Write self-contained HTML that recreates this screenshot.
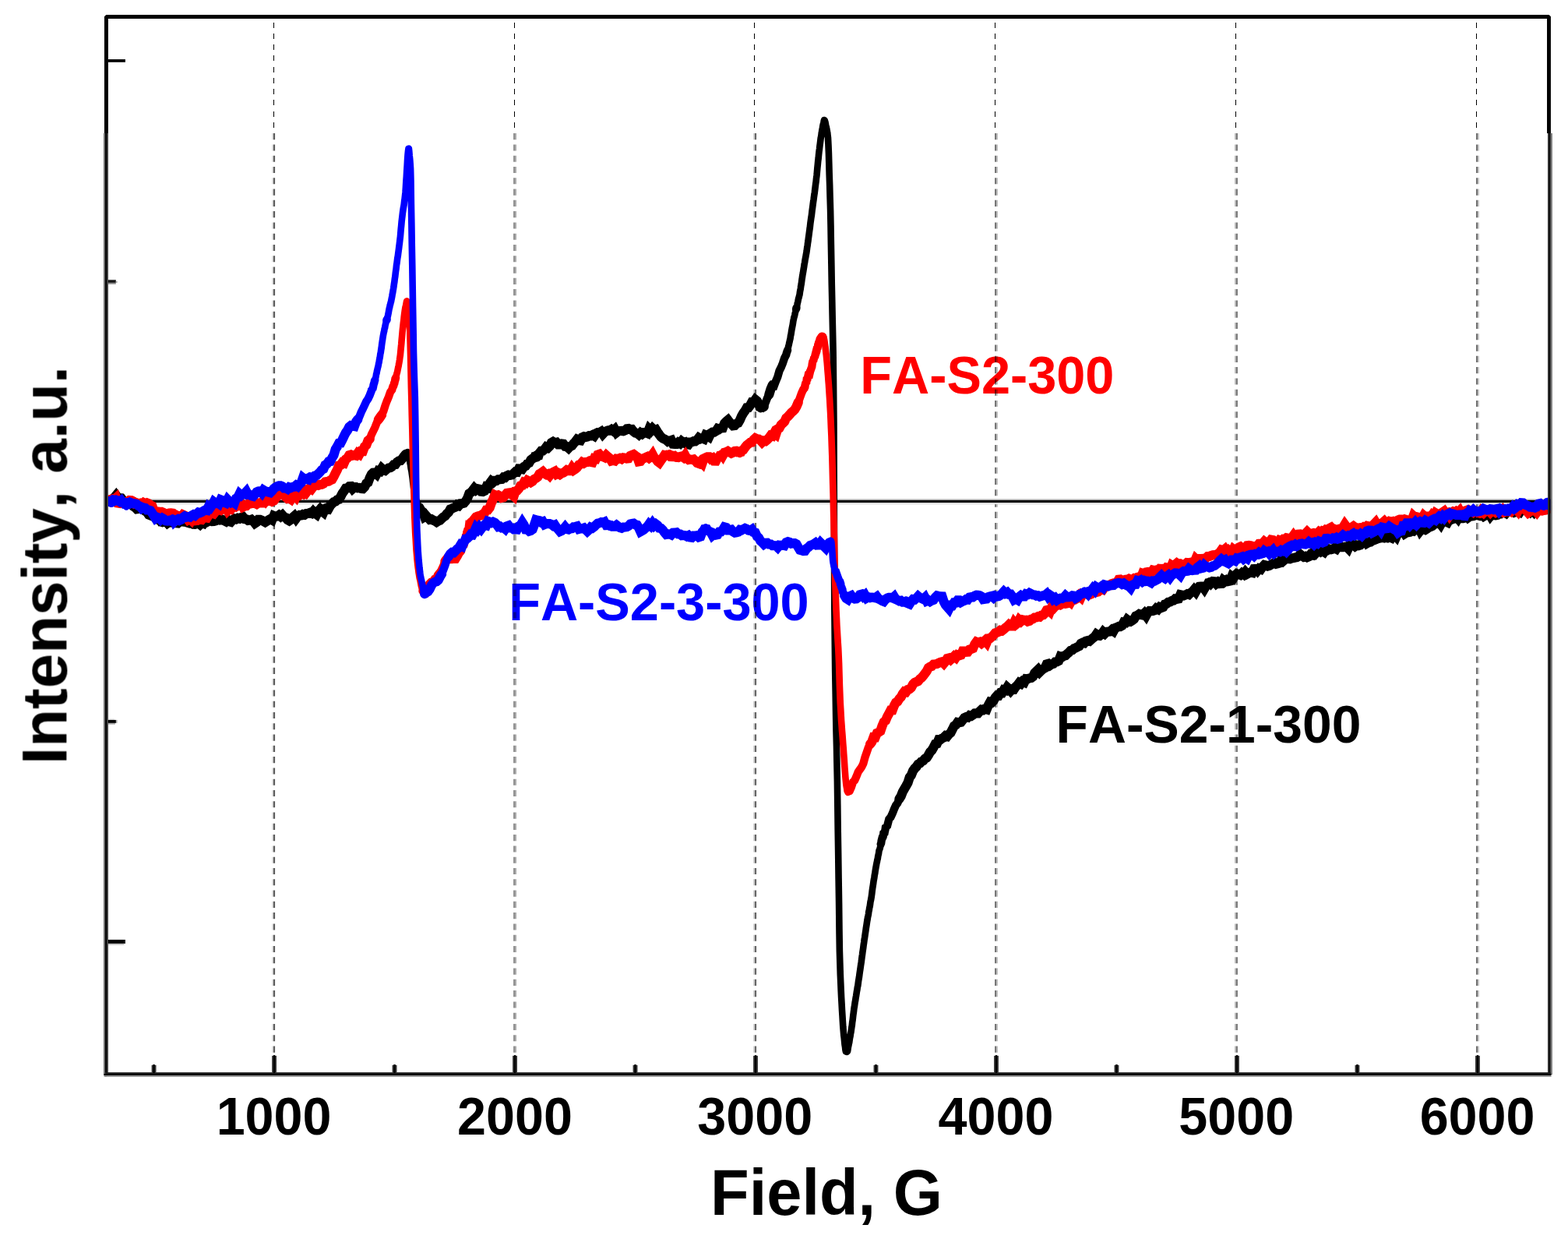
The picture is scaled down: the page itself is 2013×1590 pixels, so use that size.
<!DOCTYPE html>
<html lang="en">
<head>
<meta charset="utf-8">
<title>EPR spectra</title>
<style>
html,body{margin:0;padding:0;background:#fff;}
body{width:2013px;height:1590px;overflow:hidden;}
svg{display:block;}
text{font-family:"Liberation Sans",sans-serif;font-weight:bold;font-kerning:none;}
.tick{font-size:66.5px;text-anchor:middle;fill:#000;}
.ttl{font-size:80px;text-anchor:middle;fill:#000;}
.lbl{font-size:66.7px;text-anchor:start;}
.crv{fill:none;stroke-linejoin:miter;stroke-miterlimit:1.9;stroke-linecap:butt;}
.gd{stroke-dasharray:8.1 6.1857;fill:none;}
.g0{stroke:#000;stroke-width:1.1;stroke-dasharray:7.07 6.86;fill:none;}
</style>
</head>
<body>
<svg width="2013" height="1590" viewBox="0 0 2013 1590">
<rect x="0" y="0" width="2013" height="1590" fill="#fff"/>
<defs><filter id="soft" x="0" y="0" width="2013" height="1590" filterUnits="userSpaceOnUse" color-interpolation-filters="sRGB"><feGaussianBlur stdDeviation="0.7"/></filter><clipPath id="lower"><rect x="0" y="170.6" width="2013" height="1420"/></clipPath><clipPath id="upper"><rect x="0" y="0" width="2013" height="170.6"/></clipPath></defs>
<g clip-path="url(#lower)">
<g id="raster" filter="url(#soft)">
<g id="labels">
<text class="lbl" transform="translate(1104.3,504.8) scale(1,1.02)" fill="#f00">FA-S2-300</text>
<text class="lbl" transform="translate(653.2,796) scale(1,1.02)" fill="#00f">FA-S2-3-300</text>
<text class="lbl" style="font-size:67.8px" transform="translate(1355.6,953) scale(1,1.02)" fill="#000">FA-S2-1-300</text>
</g>
<g id="grid" style="mix-blend-mode:multiply">
<line class="gd" x1="350.10" y1="171.1" x2="350.10" y2="1354" stroke="#dcdcdc" stroke-width="1.6"/>
<line class="gd" x1="352.00" y1="171.1" x2="352.00" y2="1354" stroke="#5c5c5c" stroke-width="2.2"/>
<line class="gd" x1="660.10" y1="171.1" x2="660.10" y2="1354" stroke="#8c8c8c" stroke-width="2.0"/>
<line class="gd" x1="662.00" y1="171.1" x2="662.00" y2="1354" stroke="#a4a4a4" stroke-width="1.8"/>
<line class="gd" x1="968.00" y1="171.1" x2="968.00" y2="1354" stroke="#d0d0d0" stroke-width="1.8"/>
<line class="gd" x1="970.00" y1="171.1" x2="970.00" y2="1354" stroke="#666666" stroke-width="2.2"/>
<line class="gd" x1="1278.10" y1="171.1" x2="1278.10" y2="1354" stroke="#707070" stroke-width="2.0"/>
<line class="gd" x1="1280.00" y1="171.1" x2="1280.00" y2="1354" stroke="#b8b8b8" stroke-width="1.8"/>
<line class="gd" x1="1586.00" y1="171.1" x2="1586.00" y2="1354" stroke="#b8b8b8" stroke-width="1.8"/>
<line class="gd" x1="1587.90" y1="171.1" x2="1587.90" y2="1354" stroke="#747474" stroke-width="2.0"/>
<line class="gd" x1="1896.10" y1="171.1" x2="1896.10" y2="1354" stroke="#686868" stroke-width="2.0"/>
<line class="gd" x1="1898.00" y1="171.1" x2="1898.00" y2="1354" stroke="#c4c4c4" stroke-width="1.8"/>
</g>
<g id="zero">
<rect x="139" y="640.4" width="1848" height="1.5" fill="#b4b4b4"/>
<rect x="139" y="641.9" width="1848" height="3.15" fill="#000"/>
<rect x="139" y="645.05" width="1848" height="2.2" fill="#dedede"/>
</g>
<g id="curve-000">
<path class="crv" style="stroke-linejoin:round" stroke="#000" stroke-width="8.6" d="M142.5,641.2 144.7,640.2 146.9,638.3 149.1,635.6 151.3,638.6 153.5,639 155.7,639.3 157.9,642.1 160.1,643.1 162.3,644.3 164.5,645 166.7,646.7 168.9,646.7 171.1,649.6 173.3,651 175.5,653.2 177.7,652.9 179.9,652.9 182.1,652.9 184.3,654.3 186.5,656 188.7,657.3 190.9,660.4 193.1,661.3 195.3,658.4 197.5,661.2 199.7,664.7 201.9,665.4 204.1,667.5 206.3,668.9 208.5,672.1 210.7,668.1 212.9,668.7 215.1,671.3 217.3,669.7 219.5,670.3 221.7,669.6 223.9,668.7 226.1,671.2 228.3,671.4 230.5,669.4 232.7,669.3 234.9,669.6 237.1,668.7 239.3,670.2 241.5,670.9 243.7,671.5 245.9,671.3 248.1,672.7 250.3,672.8 252.5,672.3 254.7,671.3 256.9,673.1 259.1,670.9 261.3,671.7 263.5,668.1 265.7,670 267.9,668.9 270.1,667.9 272.3,669.1 274.5,668.9 276.7,668.3 278.9,665.8 281.1,665.2 283.3,667.3 285.5,666.9 287.7,668.1 289.9,669.2 292.1,666.8 294.3,669.1 296.5,669.8 298.7,667.3 300.9,665.6 303.1,666.3 305.3,664.9 307.5,665.5 309.7,664 311.9,663.3 314.1,666.1 316.3,666.4 318.5,667.9 320.7,667.6 322.9,666.8 325.1,668.8 327.3,671.6 329.5,670.1 331.7,666.8 333.9,666.8 336.1,667.7 338.3,668.9 340.5,670.2 342.7,668.8 344.9,667.1 347.1,666 349.3,667.3 351.5,662 353.7,662.9 355.9,662.5 358.1,661 360.3,662.8 362.5,661 364.7,663.5 366.9,664.2 369.1,667 371.3,668.3 373.5,666.7 375.7,664 377.9,662.1 380.1,665.4 382.3,662.5 384.5,661.1 386.7,661.3 388.9,660 391.1,660.6 393.3,659 395.5,659 397.7,658.1 399.9,658.9 402.1,656.3 404.3,658.6 406.5,660.2 408.7,655.9 410.9,653.4 413.1,655.9 415.3,657.6 417.5,652.7 419.7,651.7 421.9,652.7 424.1,648.7 426.3,646.5 428.5,644.2 430.7,643.6 432.9,641.4 435.1,640.7 437.3,637.5 439.5,633.1 441.7,630.1 443.9,626.6 446.1,626.2 448.3,624.2 450.5,624.1 452.7,627.2 454.9,625.2 457.1,625.2 459.3,626.3 461.5,626 463.7,626.9 465.9,627.1 468.1,624.9 470.3,620.4 472.5,619.1 474.7,613.1 476.9,608.8 479.1,606.7 481.3,606.5 483.5,608.5 485.7,604.3 487.9,604.9 490.1,601.1 492.3,603.1 494.5,603.9 496.7,602 498.9,600.5 501.1,600.2 503.3,598.8 505.5,596.3 507.7,596 509.9,592.9 512.1,591.4 514.3,591 516.5,588.6 518.7,585.6 520.9,582.9 523.1,581.5 523.5,580.1 524,582.2 524.4,582.7 524.9,584.5 525.3,587.2 525.7,589.7 526.2,592.1 526.6,594.8 527.1,597.2 527.5,600.6 527.9,602.5 528.4,604.8 528.8,607.9 529.3,611.4 529.7,614.5 530.1,618.4 530.6,622 531,625.9 531.5,629.1 531.9,631 532.3,634.3 532.8,636.1 533.2,639.3 533.7,640.5 534.1,641.7 534.5,641.9 535,645.1 535.4,648.3 535.9,646.8 536.3,648.7 538.5,651.4 540.7,655.4 542.9,657.1 545.1,663.3 547.3,662 549.5,664.5 551.7,666.8 553.9,666.3 556.1,667.6 558.3,668.4 560.5,669.9 562.7,668.5 564.9,667.7 567.1,665.5 569.3,663.5 571.5,662.2 573.7,659.3 575.9,657.4 578.1,653.5 580.3,652.7 582.5,651.5 584.7,650.6 586.9,648 589.1,648.9 591.3,646.3 593.5,646.1 595.7,645.5 597.9,643 600.1,639.3 602.3,633.4 604.5,632.1 606.7,629.5 608.9,626.6 611.1,628.9 613.3,627.3 615.5,627.7 617.7,630.8 619.9,631 622.1,630 624.3,625 626.5,625.8 628.7,620.3 630.9,617.3 633.1,618.9 635.3,616.9 637.5,616.9 639.7,615.3 641.9,615.2 644.1,615 646.3,612.6 648.5,612.9 650.7,610.6 652.9,609.5 655.1,609.9 657.3,609.4 659.5,607.5 661.7,605.4 663.9,605.7 666.1,601.4 668.3,601.5 670.5,602.1 672.7,598.9 674.9,598 677.1,595 679.3,594 681.5,590.2 683.7,588.6 685.9,587.5 688.1,582.7 690.3,588.1 692.5,581.4 694.7,578.7 696.9,578.6 699.1,576.7 701.3,573.7 703.5,574.7 705.7,572.5 707.9,568.2 710.1,566.9 712.3,568.2 714.5,567.7 716.7,570.3 718.9,570.3 721.1,569.5 723.3,569.7 725.5,572.8 727.7,573.1 729.9,575 732.1,572.7 734.3,571.9 736.5,569 738.7,566.8 740.9,563.9 743.1,564.9 745.3,565.3 747.5,561.3 749.7,560.3 751.9,560.9 754.1,560.4 756.3,559.2 758.5,559.3 760.7,558.2 762.9,559.5 765.1,556.3 767.3,555.2 769.5,555.2 771.7,553.9 773.9,557.1 776.1,554.7 778.3,553.2 780.5,552.5 782.7,552.6 784.9,551.2 787.1,552.9 789.3,550.9 791.5,555 793.7,553.3 795.9,553 798.1,552.9 800.3,553.3 802.5,552.4 804.7,550.3 806.9,550 809.1,551.2 811.3,551.1 813.5,553.8 815.7,555.6 817.9,556 820.1,557.7 822.3,555.4 824.5,556.9 826.7,555.1 828.9,555.1 831.1,556 833.3,550.5 835.5,552.7 837.7,549.9 839.9,552 842.1,551.3 844.3,554.8 846.5,557.9 848.7,560.7 850.9,562.6 853.1,563.5 855.3,564.7 857.5,566.6 859.7,565.7 861.9,565 864.1,569.8 866.3,570 868.5,569.9 870.7,567.8 872.9,569.1 875.1,566.3 877.3,568 879.5,567.4 881.7,570 883.9,570.5 886.1,567.4 888.3,567.3 890.5,566.2 892.7,566.3 894.9,564.7 897.1,561.8 899.3,563.2 901.5,562.4 903.7,563.3 905.9,558.3 908.1,559.2 910.3,560.6 912.5,556 914.7,554.6 916.9,554.6 919.1,553.3 921.3,550 923.5,550.8 925.7,549.3 927.9,549.2 930.1,543.3 932.3,540.9 934.5,539.1 936.7,542 938.9,543.9 941.1,546.3 943.3,546 945.5,543.6 947.7,542.8 949.9,539.1 952.1,533.9 954.3,530.1 956.5,527.2 958.7,523.3 960.9,523.1 963.1,520.2 965.3,516 967.5,516 969.7,512.8 971.9,514.6 974.1,518.3 976.3,525.2 978.5,522.7 980.7,521.9 982.9,516.4 985.1,510.6 987.3,506.5 989.5,499.3 991.7,494.3 993.9,494.9 996.1,488.9 998.3,483.7 1000.5,476 1002.7,471.6 1004.9,466.2 1007.1,459.6 1009.3,455.3 1009.7,453.4 1010.2,451.9 1010.6,450.8 1011.1,449.3 1011.5,447.8 1011.9,445.8 1012.4,443.5 1012.8,442.2 1013.3,439.7 1013.7,438.2 1014.1,436.2 1014.6,434.2 1015,431 1015.5,429.2 1015.9,426.3 1016.3,423.8 1016.8,421.1 1017.2,419.1 1017.7,416.7 1018.1,414 1018.5,411.4 1019,409.2 1019.4,407.2 1019.9,405.9 1020.3,404.1 1020.7,402 1021.2,400.1 1021.6,398 1022.1,396.4 1022.5,395.1 1022.9,393.6 1023.4,391.3 1023.8,389.1 1024.3,387.3 1024.7,385.2 1025.1,383.2 1025.6,381.7 1026,379.9 1026.5,378.2 1026.9,375.1 1027.3,372.8 1027.8,370.3 1028.2,367.1 1028.7,364.7 1029.1,361.7 1029.5,358.5 1030,355.6 1030.4,352.7 1030.9,350.1 1031.3,347.7 1031.7,345 1032.2,342.2 1032.6,339.1 1033.1,336.9 1033.5,334 1033.9,331.8 1034.4,329.4 1034.8,326.9 1035.3,324.4 1035.7,321.7 1036.1,318.4 1036.6,315.4 1037,312.3 1037.5,309 1037.9,305.6 1038.3,302.8 1038.8,299 1039.2,296 1039.7,292.7 1040.1,289.1 1040.5,285.6 1041,282.2 1041.4,279.2 1041.9,276.2 1042.3,272.7 1042.7,269.3 1043.2,265.9 1043.6,262.7 1044.1,258.9 1044.5,256.3 1044.9,253.2 1045.4,249.7 1045.8,247.1 1046.3,243 1046.7,239.8 1047.1,236.4 1047.6,233.1 1048,229 1048.5,225.2 1048.9,220.8 1049.3,216.1 1049.8,211.3 1050.2,206.9 1050.7,202.9 1051.1,198.5 1051.5,194.7 1052,191.1 1052.4,187.6 1052.9,183.8 1053.3,180.5 1053.7,177.1 1054.2,174.8 1054.6,172 1055.1,168.7 1055.5,166.7 1055.9,164.4 1056.4,161.3 1056.8,159.5 1057.3,158.1 1057.7,155.3 1058.1,154 1058.6,154.1 1059,155.3 1059.5,156.8 1059.9,159.2 1060.3,161.2 1060.8,162.6 1061.2,165.1 1061.7,167.4 1062.1,169.7 1062.5,172.7 1063,176.7 1063.4,184.5 1063.9,196 1064.3,209.8 1064.7,224.3 1065.2,238.3 1065.6,253.3 1066.1,269.9 1066.5,289 1066.9,313.9 1067.4,341.7 1067.8,365.9 1068.3,388.4 1068.7,408.7 1069.1,426.5 1069.6,451.4 1070,487.3 1070.5,543.5 1070.9,674.9 1071.3,780.4 1071.8,827.7 1072.2,862.7 1072.7,891.4 1073.1,917.1 1073.5,938.6 1074,958.3 1074.4,978.9 1074.9,1003 1075.3,1032.6 1075.7,1065.1 1076.2,1097.3 1076.6,1127.5 1077.1,1160 1077.5,1195.5 1077.9,1221.1 1078.4,1237.2 1078.8,1250.5 1079.3,1261.6 1079.7,1271.2 1080.1,1279.9 1080.6,1288.4 1081,1296.3 1081.5,1304 1081.9,1311 1082.3,1317.4 1082.8,1323.3 1083.2,1328.1 1083.7,1332.1 1084.1,1336.4 1084.5,1340.6 1085,1343.6 1085.4,1347.3 1085.9,1349.5 1086.3,1349.7 1086.7,1349.5 1087.2,1350 1087.6,1349.4 1088.1,1349.1 1088.5,1346.8 1088.9,1343.8 1089.4,1341.5 1089.8,1339.5 1090.3,1337.4 1090.7,1334.5 1091.1,1331.8 1091.6,1329.7 1092,1326.7 1092.5,1324.3 1092.9,1321.5 1093.3,1318.6 1093.8,1315.8 1094.2,1311.7 1094.7,1308.6 1095.1,1304.9 1095.5,1301.6 1096,1298.2 1096.4,1294.6 1096.9,1291.8 1097.3,1289 1097.7,1286.1 1098.2,1283.6 1098.6,1280.7 1099.1,1277.9 1099.5,1275.3 1099.9,1272.6 1100.4,1270.1 1100.8,1267 1101.3,1265.1 1101.7,1262.1 1102.1,1258.9 1102.6,1256.1 1103,1253.7 1103.5,1249.8 1103.9,1247 1104.3,1244.3 1104.8,1240.9 1105.2,1238 1105.7,1234.9 1106.1,1231.8 1106.5,1228.4 1107,1225.1 1107.4,1221.9 1107.9,1218.6 1108.3,1215.8 1108.7,1212.5 1109.2,1209.3 1109.6,1206.1 1110.1,1203.2 1110.5,1200.4 1110.9,1197.7 1111.4,1194.4 1111.8,1191.3 1112.3,1188.3 1112.7,1185.6 1113.1,1182.8 1113.6,1180.1 1114,1177.3 1114.5,1175.2 1114.9,1173.3 1115.3,1169.9 1115.8,1168 1116.2,1165 1116.7,1163.1 1117.1,1160.3 1117.5,1157.3 1118,1155.3 1118.4,1153.1 1118.9,1149.8 1119.3,1146.9 1119.7,1143.4 1120.2,1139.8 1120.6,1137.4 1121.1,1134.2 1121.5,1131 1121.9,1128.7 1122.4,1125.9 1122.8,1123 1123.3,1120.7 1123.7,1117.5 1124.1,1115.3 1124.6,1112.3 1125,1110.4 1125.5,1107.4 1125.9,1106 1126.3,1103.5 1126.8,1101.9 1127.2,1098.9 1127.7,1096.7 1128.1,1095.1 1128.5,1091.7 1129,1090.5 1129.4,1089.6 1129.9,1087.6 1130.3,1085.9 1130.7,1083.3 1131.2,1081.9 1131.6,1079 1132.1,1076.9 1132.5,1075.4 1132.9,1075.3 1133.4,1074.4 1133.8,1073.3 1134.3,1069.3 1134.7,1069 1135.1,1069 1135.6,1068.7 1136,1066.7 1136.5,1064.8 1136.9,1061.8 1139.1,1059.8 1141.3,1051.2 1143.5,1048.7 1145.7,1044 1147.9,1038.3 1150.1,1033.4 1152.3,1030.6 1154.5,1025.2 1156.7,1021.7 1158.9,1016.1 1161.1,1012.2 1163.3,1008.5 1165.5,1004.6 1167.7,997.7 1169.9,994.8 1172.1,989.2 1174.3,986.1 1176.5,984 1178.7,980.7 1180.9,979.6 1183.1,977.1 1185.3,976.2 1187.5,973.6 1189.7,972.4 1191.9,969 1194.1,965 1196.3,962.9 1198.5,959.1 1200.7,954.7 1202.9,954.2 1205.1,949.2 1207.3,949.2 1209.5,947.4 1211.7,946.4 1213.9,944.2 1216.1,944.9 1218.3,942.2 1220.5,940.3 1222.7,936.1 1224.9,931.6 1227.1,930.2 1229.3,927 1231.5,927.4 1233.7,926.9 1235.9,924.1 1238.1,921.1 1240.3,920.1 1242.5,920.6 1244.7,918.2 1246.9,918.9 1249.1,917.4 1251.3,915.4 1253.5,915.2 1255.7,915.3 1257.9,912.7 1260.1,910.6 1262.3,911.1 1264.5,909.6 1266.7,910.3 1268.9,904.9 1271.1,900.9 1273.3,901.5 1275.5,899.3 1277.7,895.2 1279.9,892.7 1282.1,892.8 1284.3,889.2 1286.5,889.3 1288.7,885.3 1290.9,885.9 1293.1,882.1 1295.3,884.1 1297.5,886.6 1299.7,884.2 1301.9,884.5 1304.1,881.2 1306.3,879.1 1308.5,876.2 1310.7,877.4 1312.9,874.5 1315.1,875.5 1317.3,871.1 1319.5,871.3 1321.7,870.3 1323.9,870 1326.1,868.3 1328.3,863.5 1330.5,861.4 1332.7,859.3 1334.9,862.4 1337.1,860.2 1339.3,858.4 1341.5,857.3 1343.7,852.4 1345.9,851.8 1348.1,853.7 1350.3,852.2 1352.5,851.7 1354.7,849.4 1356.9,849.2 1359.1,848.1 1361.3,842.6 1363.5,843.3 1365.7,841.8 1367.9,841.3 1370.1,839 1372.3,837.3 1374.5,834.8 1376.7,834.2 1378.9,832.2 1381.1,831.5 1383.3,830.1 1385.5,829.1 1387.7,825.7 1389.9,824.7 1392.1,825.2 1394.3,822.7 1396.5,822.1 1398.7,822.7 1400.9,820.7 1403.1,818.7 1405.3,817.1 1407.5,813.9 1409.7,815.4 1411.9,815.8 1414.1,814.1 1416.3,811 1418.5,813 1420.7,810.8 1422.9,810.6 1425.1,810.4 1427.3,808.4 1429.5,810 1431.7,805.9 1433.9,805.1 1436.1,804 1438.3,804.1 1440.5,802.9 1442.7,798.5 1444.9,798.9 1447.1,795.2 1449.3,796.8 1451.5,797.5 1453.7,796.2 1455.9,794.5 1458.1,790.5 1460.3,789.6 1462.5,788 1464.7,788.8 1466.9,789.3 1469.1,787.1 1471.3,790.1 1473.5,786.1 1475.7,784 1477.9,784.1 1480.1,784 1482.3,783.3 1484.5,780.7 1486.7,781.9 1488.9,779.1 1491.1,780 1493.3,779.1 1495.5,775.4 1497.7,774.7 1499.9,772.8 1502.1,772.4 1504.3,771 1506.5,770.6 1508.7,768.4 1510.9,768.7 1513.1,768.3 1515.3,763.3 1517.5,763.8 1519.7,764.3 1521.9,763.5 1524.1,762.3 1526.3,763 1528.5,760.8 1530.7,759.4 1532.9,756.8 1535.1,759.4 1537.3,755.5 1539.5,752.9 1541.7,752.7 1543.9,752.6 1546.1,755.6 1548.3,751.9 1550.5,749.7 1552.7,745.4 1554.9,748.4 1557.1,746.1 1559.3,746.3 1561.5,749 1563.7,747.2 1565.9,749 1568.1,748.9 1570.3,744.6 1572.5,746.3 1574.7,744.5 1576.9,746 1579.1,745.5 1581.3,740 1583.5,741.8 1585.7,738.2 1587.9,736.2 1590.1,736.7 1592.3,737.7 1594.5,735.5 1596.7,737.1 1598.9,734.1 1601.1,736.5 1603.3,735.3 1605.5,734.4 1607.7,734.9 1609.9,730.1 1612.1,730 1614.3,732.4 1616.5,729.7 1618.7,730.6 1620.9,727.4 1623.1,725 1625.3,725.6 1627.5,726.6 1629.7,726 1631.9,724.5 1634.1,723.5 1636.3,722.1 1638.5,723.6 1640.7,723.1 1642.9,722.4 1645.1,718 1647.3,720 1649.5,718.1 1651.7,715.8 1653.9,717.1 1656.1,717.3 1658.3,716.4 1660.5,716.1 1662.7,715.5 1664.9,715.1 1667.1,713.9 1669.3,711.4 1671.5,713.2 1673.7,714.7 1675.9,713.9 1678.1,715.2 1680.3,714.2 1682.5,711.4 1684.7,712 1686.9,707.8 1689.1,710.1 1691.3,707.7 1693.5,706.5 1695.7,708.2 1697.9,706.9 1700.1,708.4 1702.3,705.2 1704.5,705.9 1706.7,704.5 1708.9,705.1 1711.1,704.6 1713.3,703.2 1715.5,704.4 1717.7,700.9 1719.9,700.4 1722.1,702.2 1724.3,702.2 1726.5,701.8 1728.7,701.5 1730.9,703.8 1733.1,699 1735.3,699.5 1737.5,699.2 1739.7,701.1 1741.9,699.6 1744.1,700.1 1746.3,699.4 1748.5,696.8 1750.7,694.7 1752.9,693.4 1755.1,697.2 1757.3,696 1759.5,695.5 1761.7,693.9 1763.9,693.3 1766.1,692.4 1768.3,691.5 1770.5,687.8 1772.7,690.2 1774.9,689.7 1777.1,690.3 1779.3,689.6 1781.5,690.2 1783.7,689.2 1785.9,690.1 1788.1,685.4 1790.3,686.3 1792.5,688.7 1794.7,683.5 1796.9,683.1 1799.1,683.3 1801.3,681.5 1803.5,684.9 1805.7,683.6 1807.9,683.1 1810.1,682.8 1812.3,681.1 1814.5,681.6 1816.7,679.5 1818.9,678.8 1821.1,676.5 1823.3,681.1 1825.5,678.3 1827.7,679 1829.9,679.9 1832.1,678.6 1834.3,676.8 1836.5,676 1838.7,675.1 1840.9,673 1843.1,672.2 1845.3,670.1 1847.5,670 1849.7,672.9 1851.9,669 1854.1,669.2 1856.3,669.4 1858.5,670.4 1860.7,666.6 1862.9,667 1865.1,666.1 1867.3,665.6 1869.5,662.7 1871.7,665.3 1873.9,661.4 1876.1,665.2 1878.3,665.2 1880.5,664.5 1882.7,661.4 1884.9,664.2 1887.1,662.6 1889.3,662.5 1891.5,662.1 1893.7,660.8 1895.9,660.9 1898.1,661.5 1900.3,658.2 1902.5,660.6 1904.7,662.6 1906.9,661.3 1909.1,661 1911.3,658.2 1913.5,662 1915.7,659.3 1917.9,660.9 1920.1,661.2 1922.3,660.8 1924.5,658.6 1926.7,659 1928.9,657.3 1931.1,657.4 1933.3,658.6 1935.5,655.9 1937.7,654.9 1939.9,653.2 1942.1,655.7 1944.3,657.6 1946.5,656.8 1948.7,656.9 1950.9,657.7 1953.1,654.3 1955.3,653.8 1957.5,653.6 1959.7,654.8 1961.9,655 1964.1,656.8 1966.3,654 1968.5,656.3 1970.7,652.2 1972.9,652.9 1975.1,655 1977.3,653.8 1979.5,652 1981.7,651.5 1983.9,651.2 1986.1,648.5 1986.5,651.1"/>
<path class="crv" style="stroke-linecap:round" stroke="#000" stroke-width="10.3" d="M142.5,641.2 144.7,640.2 146.9,638.3 149.1,635.6 151.3,638.6 153.5,639 155.7,639.3 157.9,642.1 160.1,643.1 162.3,644.3 164.5,645 166.7,646.7 168.9,646.7 171.1,649.6 173.3,651 175.5,653.2 177.7,652.9 179.9,652.9 182.1,652.9 184.3,654.3 186.5,656 188.7,657.3 190.9,660.4 193.1,661.3 195.3,658.4 197.5,661.2 199.7,664.7 201.9,665.4 204.1,667.5 206.3,668.9 208.5,672.1 210.7,668.1 212.9,668.7 215.1,671.3 217.3,669.7 219.5,670.3 221.7,669.6 223.9,668.7 226.1,671.2 228.3,671.4 230.5,669.4 232.7,669.3 234.9,669.6 237.1,668.7 239.3,670.2 241.5,670.9 243.7,671.5 245.9,671.3 248.1,672.7 250.3,672.8 252.5,672.3 254.7,671.3 256.9,673.1 259.1,670.9 261.3,671.7 263.5,668.1 265.7,670 267.9,668.9 270.1,667.9 272.3,669.1 274.5,668.9 276.7,668.3 278.9,665.8 281.1,665.2 283.3,667.3 285.5,666.9 287.7,668.1 289.9,669.2 292.1,666.8 294.3,669.1 296.5,669.8 298.7,667.3 300.9,665.6 303.1,666.3 305.3,664.9 307.5,665.5 309.7,664 311.9,663.3 314.1,666.1 316.3,666.4 318.5,667.9 320.7,667.6 322.9,666.8 325.1,668.8 327.3,671.6 329.5,670.1 331.7,666.8 333.9,666.8 336.1,667.7 338.3,668.9 340.5,670.2 342.7,668.8 344.9,667.1 347.1,666 349.3,667.3 351.5,662 353.7,662.9 355.9,662.5 358.1,661 360.3,662.8 362.5,661 364.7,663.5 366.9,664.2 369.1,667 371.3,668.3 373.5,666.7 375.7,664 377.9,662.1 380.1,665.4 382.3,662.5 384.5,661.1 386.7,661.3 388.9,660 391.1,660.6 393.3,659 395.5,659 397.7,658.1 399.9,658.9 402.1,656.3 404.3,658.6 406.5,660.2 408.7,655.9 410.9,653.4 413.1,655.9 415.3,657.6 417.5,652.7 419.7,651.7 421.9,652.7 424.1,648.7 426.3,646.5 428.5,644.2 430.7,643.6 432.9,641.4 435.1,640.7 437.3,637.5 439.5,633.1 441.7,630.1 443.9,626.6 446.1,626.2 448.3,624.2 450.5,624.1 452.7,627.2 454.9,625.2 457.1,625.2 459.3,626.3 461.5,626 463.7,626.9 465.9,627.1 468.1,624.9 470.3,620.4 472.5,619.1 474.7,613.1 476.9,608.8 479.1,606.7 481.3,606.5 483.5,608.5 485.7,604.3 487.9,604.9 490.1,601.1 492.3,603.1 494.5,603.9 496.7,602 498.9,600.5 501.1,600.2 503.3,598.8 505.5,596.3 507.7,596 509.9,592.9 512.1,591.4 514.3,591 516.5,588.6 518.7,585.6 520.9,582.9"/>
<path class="crv" style="stroke-linecap:round" stroke="#000" stroke-width="10.3" d="M535.4,648.3 535.9,646.8 536.3,648.7 538.5,651.4 540.7,655.4 542.9,657.1 545.1,663.3 547.3,662 549.5,664.5 551.7,666.8 553.9,666.3 556.1,667.6 558.3,668.4 560.5,669.9 562.7,668.5 564.9,667.7 567.1,665.5 569.3,663.5 571.5,662.2 573.7,659.3 575.9,657.4 578.1,653.5 580.3,652.7 582.5,651.5 584.7,650.6 586.9,648 589.1,648.9 591.3,646.3 593.5,646.1 595.7,645.5 597.9,643 600.1,639.3 602.3,633.4 604.5,632.1 606.7,629.5 608.9,626.6 611.1,628.9 613.3,627.3 615.5,627.7 617.7,630.8 619.9,631 622.1,630 624.3,625 626.5,625.8 628.7,620.3 630.9,617.3 633.1,618.9 635.3,616.9 637.5,616.9 639.7,615.3 641.9,615.2 644.1,615 646.3,612.6 648.5,612.9 650.7,610.6 652.9,609.5 655.1,609.9 657.3,609.4 659.5,607.5 661.7,605.4 663.9,605.7 666.1,601.4 668.3,601.5 670.5,602.1 672.7,598.9 674.9,598 677.1,595 679.3,594 681.5,590.2 683.7,588.6 685.9,587.5 688.1,582.7 690.3,588.1 692.5,581.4 694.7,578.7 696.9,578.6 699.1,576.7 701.3,573.7 703.5,574.7 705.7,572.5 707.9,568.2 710.1,566.9 712.3,568.2 714.5,567.7 716.7,570.3 718.9,570.3 721.1,569.5 723.3,569.7 725.5,572.8 727.7,573.1 729.9,575 732.1,572.7 734.3,571.9 736.5,569 738.7,566.8 740.9,563.9 743.1,564.9 745.3,565.3 747.5,561.3 749.7,560.3 751.9,560.9 754.1,560.4 756.3,559.2 758.5,559.3 760.7,558.2 762.9,559.5 765.1,556.3 767.3,555.2 769.5,555.2 771.7,553.9 773.9,557.1 776.1,554.7 778.3,553.2 780.5,552.5 782.7,552.6 784.9,551.2 787.1,552.9 789.3,550.9 791.5,555 793.7,553.3 795.9,553 798.1,552.9 800.3,553.3 802.5,552.4 804.7,550.3 806.9,550 809.1,551.2 811.3,551.1 813.5,553.8 815.7,555.6 817.9,556 820.1,557.7 822.3,555.4 824.5,556.9 826.7,555.1 828.9,555.1 831.1,556 833.3,550.5 835.5,552.7 837.7,549.9 839.9,552 842.1,551.3 844.3,554.8 846.5,557.9 848.7,560.7 850.9,562.6 853.1,563.5 855.3,564.7 857.5,566.6 859.7,565.7 861.9,565 864.1,569.8 866.3,570 868.5,569.9 870.7,567.8 872.9,569.1 875.1,566.3 877.3,568 879.5,567.4 881.7,570 883.9,570.5 886.1,567.4 888.3,567.3 890.5,566.2 892.7,566.3 894.9,564.7 897.1,561.8 899.3,563.2 901.5,562.4 903.7,563.3 905.9,558.3 908.1,559.2 910.3,560.6 912.5,556 914.7,554.6 916.9,554.6 919.1,553.3 921.3,550 923.5,550.8 925.7,549.3 927.9,549.2 930.1,543.3 932.3,540.9 934.5,539.1 936.7,542 938.9,543.9 941.1,546.3 943.3,546 945.5,543.6 947.7,542.8 949.9,539.1 952.1,533.9 954.3,530.1 956.5,527.2 958.7,523.3 960.9,523.1 963.1,520.2 965.3,516 967.5,516 969.7,512.8 971.9,514.6 974.1,518.3 976.3,525.2 978.5,522.7 980.7,521.9 982.9,516.4 985.1,510.6 987.3,506.5 989.5,499.3 991.7,494.3 993.9,494.9 996.1,488.9 998.3,483.7 1000.5,476 1002.7,471.6 1004.9,466.2 1007.1,459.6 1009.3,455.3 1009.7,453.4 1010.2,451.9 1010.6,450.8 1011.1,449.3"/>
<path class="crv" style="stroke-linecap:round" stroke="#000" stroke-width="10.3" d="M1022.1,396.4 1022.5,395.1"/>
<path class="crv" style="stroke-linecap:round" stroke="#000" stroke-width="10.3" d="M1130.7,1083.3 1131.2,1081.9 1131.6,1079 1132.1,1076.9 1132.5,1075.4 1132.9,1075.3 1133.4,1074.4 1133.8,1073.3 1134.3,1069.3 1134.7,1069 1135.1,1069 1135.6,1068.7 1136,1066.7 1136.5,1064.8 1136.9,1061.8 1139.1,1059.8 1141.3,1051.2 1143.5,1048.7 1145.7,1044 1147.9,1038.3 1150.1,1033.4 1152.3,1030.6 1154.5,1025.2 1156.7,1021.7 1158.9,1016.1 1161.1,1012.2 1163.3,1008.5 1165.5,1004.6 1167.7,997.7 1169.9,994.8 1172.1,989.2 1174.3,986.1 1176.5,984 1178.7,980.7 1180.9,979.6 1183.1,977.1 1185.3,976.2 1187.5,973.6 1189.7,972.4 1191.9,969 1194.1,965 1196.3,962.9 1198.5,959.1 1200.7,954.7 1202.9,954.2 1205.1,949.2 1207.3,949.2 1209.5,947.4 1211.7,946.4 1213.9,944.2 1216.1,944.9 1218.3,942.2 1220.5,940.3 1222.7,936.1 1224.9,931.6 1227.1,930.2 1229.3,927 1231.5,927.4 1233.7,926.9 1235.9,924.1 1238.1,921.1 1240.3,920.1 1242.5,920.6 1244.7,918.2 1246.9,918.9 1249.1,917.4 1251.3,915.4 1253.5,915.2 1255.7,915.3 1257.9,912.7 1260.1,910.6 1262.3,911.1 1264.5,909.6 1266.7,910.3 1268.9,904.9 1271.1,900.9 1273.3,901.5 1275.5,899.3 1277.7,895.2 1279.9,892.7 1282.1,892.8 1284.3,889.2 1286.5,889.3 1288.7,885.3 1290.9,885.9 1293.1,882.1 1295.3,884.1 1297.5,886.6 1299.7,884.2 1301.9,884.5 1304.1,881.2 1306.3,879.1 1308.5,876.2 1310.7,877.4 1312.9,874.5 1315.1,875.5 1317.3,871.1 1319.5,871.3 1321.7,870.3 1323.9,870 1326.1,868.3 1328.3,863.5 1330.5,861.4 1332.7,859.3 1334.9,862.4 1337.1,860.2 1339.3,858.4 1341.5,857.3 1343.7,852.4 1345.9,851.8 1348.1,853.7 1350.3,852.2 1352.5,851.7 1354.7,849.4 1356.9,849.2 1359.1,848.1 1361.3,842.6 1363.5,843.3 1365.7,841.8 1367.9,841.3 1370.1,839 1372.3,837.3 1374.5,834.8 1376.7,834.2 1378.9,832.2 1381.1,831.5 1383.3,830.1 1385.5,829.1 1387.7,825.7 1389.9,824.7 1392.1,825.2 1394.3,822.7 1396.5,822.1 1398.7,822.7 1400.9,820.7 1403.1,818.7 1405.3,817.1 1407.5,813.9 1409.7,815.4 1411.9,815.8 1414.1,814.1 1416.3,811 1418.5,813 1420.7,810.8 1422.9,810.6 1425.1,810.4 1427.3,808.4 1429.5,810 1431.7,805.9 1433.9,805.1 1436.1,804 1438.3,804.1 1440.5,802.9 1442.7,798.5 1444.9,798.9 1447.1,795.2 1449.3,796.8 1451.5,797.5 1453.7,796.2 1455.9,794.5 1458.1,790.5 1460.3,789.6 1462.5,788 1464.7,788.8 1466.9,789.3 1469.1,787.1 1471.3,790.1 1473.5,786.1 1475.7,784 1477.9,784.1 1480.1,784 1482.3,783.3 1484.5,780.7 1486.7,781.9 1488.9,779.1 1491.1,780 1493.3,779.1 1495.5,775.4 1497.7,774.7 1499.9,772.8 1502.1,772.4 1504.3,771 1506.5,770.6 1508.7,768.4 1510.9,768.7 1513.1,768.3 1515.3,763.3 1517.5,763.8 1519.7,764.3 1521.9,763.5 1524.1,762.3 1526.3,763 1528.5,760.8 1530.7,759.4 1532.9,756.8 1535.1,759.4 1537.3,755.5 1539.5,752.9 1541.7,752.7 1543.9,752.6 1546.1,755.6 1548.3,751.9 1550.5,749.7 1552.7,745.4 1554.9,748.4 1557.1,746.1 1559.3,746.3 1561.5,749 1563.7,747.2 1565.9,749 1568.1,748.9 1570.3,744.6 1572.5,746.3 1574.7,744.5 1576.9,746 1579.1,745.5 1581.3,740 1583.5,741.8 1585.7,738.2 1587.9,736.2 1590.1,736.7 1592.3,737.7 1594.5,735.5 1596.7,737.1 1598.9,734.1 1601.1,736.5 1603.3,735.3 1605.5,734.4 1607.7,734.9 1609.9,730.1 1612.1,730 1614.3,732.4 1616.5,729.7 1618.7,730.6 1620.9,727.4 1623.1,725 1625.3,725.6 1627.5,726.6 1629.7,726 1631.9,724.5 1634.1,723.5 1636.3,722.1 1638.5,723.6 1640.7,723.1 1642.9,722.4 1645.1,718 1647.3,720 1649.5,718.1 1651.7,715.8 1653.9,717.1 1656.1,717.3 1658.3,716.4 1660.5,716.1 1662.7,715.5 1664.9,715.1 1667.1,713.9 1669.3,711.4 1671.5,713.2 1673.7,714.7 1675.9,713.9 1678.1,715.2 1680.3,714.2 1682.5,711.4 1684.7,712 1686.9,707.8 1689.1,710.1 1691.3,707.7 1693.5,706.5 1695.7,708.2 1697.9,706.9 1700.1,708.4 1702.3,705.2 1704.5,705.9 1706.7,704.5 1708.9,705.1 1711.1,704.6 1713.3,703.2 1715.5,704.4 1717.7,700.9 1719.9,700.4 1722.1,702.2 1724.3,702.2 1726.5,701.8 1728.7,701.5 1730.9,703.8 1733.1,699 1735.3,699.5 1737.5,699.2 1739.7,701.1 1741.9,699.6 1744.1,700.1 1746.3,699.4 1748.5,696.8 1750.7,694.7 1752.9,693.4 1755.1,697.2 1757.3,696 1759.5,695.5 1761.7,693.9 1763.9,693.3 1766.1,692.4 1768.3,691.5 1770.5,687.8 1772.7,690.2 1774.9,689.7 1777.1,690.3 1779.3,689.6 1781.5,690.2 1783.7,689.2 1785.9,690.1 1788.1,685.4 1790.3,686.3 1792.5,688.7 1794.7,683.5 1796.9,683.1 1799.1,683.3 1801.3,681.5 1803.5,684.9 1805.7,683.6 1807.9,683.1 1810.1,682.8 1812.3,681.1 1814.5,681.6 1816.7,679.5 1818.9,678.8 1821.1,676.5 1823.3,681.1 1825.5,678.3 1827.7,679 1829.9,679.9 1832.1,678.6 1834.3,676.8 1836.5,676 1838.7,675.1 1840.9,673 1843.1,672.2 1845.3,670.1 1847.5,670 1849.7,672.9 1851.9,669 1854.1,669.2 1856.3,669.4 1858.5,670.4 1860.7,666.6 1862.9,667 1865.1,666.1 1867.3,665.6 1869.5,662.7 1871.7,665.3 1873.9,661.4 1876.1,665.2 1878.3,665.2 1880.5,664.5 1882.7,661.4 1884.9,664.2 1887.1,662.6 1889.3,662.5 1891.5,662.1 1893.7,660.8 1895.9,660.9 1898.1,661.5 1900.3,658.2 1902.5,660.6 1904.7,662.6 1906.9,661.3 1909.1,661 1911.3,658.2 1913.5,662 1915.7,659.3 1917.9,660.9 1920.1,661.2 1922.3,660.8 1924.5,658.6 1926.7,659 1928.9,657.3 1931.1,657.4 1933.3,658.6 1935.5,655.9 1937.7,654.9 1939.9,653.2 1942.1,655.7 1944.3,657.6 1946.5,656.8 1948.7,656.9 1950.9,657.7 1953.1,654.3 1955.3,653.8 1957.5,653.6 1959.7,654.8 1961.9,655 1964.1,656.8 1966.3,654 1968.5,656.3 1970.7,652.2 1972.9,652.9 1975.1,655 1977.3,653.8 1979.5,652 1981.7,651.5 1983.9,651.2 1986.1,648.5 1986.5,651.1"/>
<path class="crv" style="stroke-linecap:round" stroke="#000" stroke-width="12.2" d="M142.5,641.2 144.7,640.2 146.9,638.3 149.1,635.6 151.3,638.6 153.5,639 155.7,639.3 157.9,642.1 160.1,643.1 162.3,644.3 164.5,645 166.7,646.7 168.9,646.7 171.1,649.6 173.3,651 175.5,653.2 177.7,652.9 179.9,652.9 182.1,652.9 184.3,654.3 186.5,656 188.7,657.3 190.9,660.4 193.1,661.3 195.3,658.4 197.5,661.2 199.7,664.7 201.9,665.4 204.1,667.5 206.3,668.9 208.5,672.1 210.7,668.1 212.9,668.7 215.1,671.3 217.3,669.7 219.5,670.3 221.7,669.6 223.9,668.7 226.1,671.2 228.3,671.4 230.5,669.4 232.7,669.3 234.9,669.6 237.1,668.7 239.3,670.2 241.5,670.9 243.7,671.5 245.9,671.3 248.1,672.7 250.3,672.8 252.5,672.3 254.7,671.3 256.9,673.1 259.1,670.9 261.3,671.7 263.5,668.1 265.7,670 267.9,668.9 270.1,667.9 272.3,669.1 274.5,668.9 276.7,668.3 278.9,665.8 281.1,665.2 283.3,667.3 285.5,666.9 287.7,668.1 289.9,669.2 292.1,666.8 294.3,669.1 296.5,669.8 298.7,667.3 300.9,665.6 303.1,666.3 305.3,664.9 307.5,665.5 309.7,664 311.9,663.3 314.1,666.1 316.3,666.4 318.5,667.9 320.7,667.6 322.9,666.8 325.1,668.8 327.3,671.6 329.5,670.1 331.7,666.8 333.9,666.8 336.1,667.7 338.3,668.9 340.5,670.2 342.7,668.8 344.9,667.1 347.1,666 349.3,667.3 351.5,662 353.7,662.9 355.9,662.5 358.1,661 360.3,662.8 362.5,661 364.7,663.5 366.9,664.2 369.1,667 371.3,668.3 373.5,666.7 375.7,664 377.9,662.1 380.1,665.4 382.3,662.5 384.5,661.1 386.7,661.3 388.9,660 391.1,660.6 393.3,659 395.5,659 397.7,658.1 399.9,658.9 402.1,656.3 404.3,658.6 406.5,660.2 408.7,655.9 410.9,653.4 413.1,655.9 415.3,657.6 417.5,652.7 419.7,651.7 421.9,652.7 424.1,648.7 426.3,646.5 428.5,644.2 430.7,643.6 432.9,641.4 435.1,640.7 437.3,637.5 439.5,633.1 441.7,630.1 443.9,626.6 446.1,626.2 448.3,624.2 450.5,624.1 452.7,627.2 454.9,625.2 457.1,625.2 459.3,626.3 461.5,626 463.7,626.9 465.9,627.1 468.1,624.9 470.3,620.4 472.5,619.1 474.7,613.1 476.9,608.8 479.1,606.7 481.3,606.5 483.5,608.5 485.7,604.3 487.9,604.9 490.1,601.1 492.3,603.1 494.5,603.9 496.7,602 498.9,600.5 501.1,600.2 503.3,598.8 505.5,596.3 507.7,596 509.9,592.9 512.1,591.4 514.3,591 516.5,588.6 518.7,585.6 520.9,582.9"/>
<path class="crv" style="stroke-linecap:round" stroke="#000" stroke-width="12.2" d="M538.5,651.4 540.7,655.4 542.9,657.1 545.1,663.3 547.3,662 549.5,664.5 551.7,666.8 553.9,666.3 556.1,667.6 558.3,668.4 560.5,669.9 562.7,668.5 564.9,667.7 567.1,665.5 569.3,663.5 571.5,662.2 573.7,659.3 575.9,657.4 578.1,653.5 580.3,652.7 582.5,651.5 584.7,650.6 586.9,648 589.1,648.9 591.3,646.3 593.5,646.1 595.7,645.5 597.9,643 600.1,639.3 602.3,633.4 604.5,632.1 606.7,629.5 608.9,626.6 611.1,628.9 613.3,627.3 615.5,627.7 617.7,630.8 619.9,631 622.1,630 624.3,625 626.5,625.8 628.7,620.3 630.9,617.3 633.1,618.9 635.3,616.9 637.5,616.9 639.7,615.3 641.9,615.2 644.1,615 646.3,612.6 648.5,612.9 650.7,610.6 652.9,609.5 655.1,609.9 657.3,609.4 659.5,607.5 661.7,605.4 663.9,605.7 666.1,601.4 668.3,601.5 670.5,602.1 672.7,598.9 674.9,598 677.1,595 679.3,594 681.5,590.2 683.7,588.6 685.9,587.5 688.1,582.7 690.3,588.1 692.5,581.4 694.7,578.7 696.9,578.6 699.1,576.7 701.3,573.7 703.5,574.7 705.7,572.5 707.9,568.2 710.1,566.9 712.3,568.2 714.5,567.7 716.7,570.3 718.9,570.3 721.1,569.5 723.3,569.7 725.5,572.8 727.7,573.1 729.9,575 732.1,572.7 734.3,571.9 736.5,569 738.7,566.8 740.9,563.9 743.1,564.9 745.3,565.3 747.5,561.3 749.7,560.3 751.9,560.9 754.1,560.4 756.3,559.2 758.5,559.3 760.7,558.2 762.9,559.5 765.1,556.3 767.3,555.2 769.5,555.2 771.7,553.9 773.9,557.1 776.1,554.7 778.3,553.2 780.5,552.5 782.7,552.6 784.9,551.2 787.1,552.9 789.3,550.9 791.5,555 793.7,553.3 795.9,553 798.1,552.9 800.3,553.3 802.5,552.4 804.7,550.3 806.9,550 809.1,551.2 811.3,551.1 813.5,553.8 815.7,555.6 817.9,556 820.1,557.7 822.3,555.4 824.5,556.9 826.7,555.1 828.9,555.1 831.1,556 833.3,550.5 835.5,552.7 837.7,549.9 839.9,552 842.1,551.3 844.3,554.8 846.5,557.9 848.7,560.7 850.9,562.6 853.1,563.5 855.3,564.7 857.5,566.6 859.7,565.7 861.9,565 864.1,569.8 866.3,570 868.5,569.9 870.7,567.8 872.9,569.1 875.1,566.3 877.3,568 879.5,567.4 881.7,570 883.9,570.5 886.1,567.4 888.3,567.3 890.5,566.2 892.7,566.3 894.9,564.7 897.1,561.8 899.3,563.2 901.5,562.4 903.7,563.3 905.9,558.3 908.1,559.2 910.3,560.6 912.5,556 914.7,554.6 916.9,554.6 919.1,553.3 921.3,550 923.5,550.8 925.7,549.3 927.9,549.2 930.1,543.3 932.3,540.9 934.5,539.1 936.7,542 938.9,543.9 941.1,546.3 943.3,546 945.5,543.6 947.7,542.8 949.9,539.1 952.1,533.9 954.3,530.1 956.5,527.2 958.7,523.3 960.9,523.1 963.1,520.2 965.3,516 967.5,516 969.7,512.8 971.9,514.6 974.1,518.3 976.3,525.2 978.5,522.7 980.7,521.9"/>
<path class="crv" style="stroke-linecap:round" stroke="#000" stroke-width="12.2" d="M987.3,506.5 989.5,499.3 991.7,494.3"/>
<path class="crv" style="stroke-linecap:round" stroke="#000" stroke-width="12.2" d="M1154.5,1025.2 1156.7,1021.7 1158.9,1016.1 1161.1,1012.2 1163.3,1008.5 1165.5,1004.6 1167.7,997.7 1169.9,994.8 1172.1,989.2 1174.3,986.1 1176.5,984 1178.7,980.7 1180.9,979.6 1183.1,977.1 1185.3,976.2 1187.5,973.6 1189.7,972.4 1191.9,969 1194.1,965 1196.3,962.9 1198.5,959.1 1200.7,954.7 1202.9,954.2 1205.1,949.2 1207.3,949.2 1209.5,947.4 1211.7,946.4 1213.9,944.2 1216.1,944.9 1218.3,942.2 1220.5,940.3 1222.7,936.1 1224.9,931.6 1227.1,930.2 1229.3,927 1231.5,927.4 1233.7,926.9 1235.9,924.1 1238.1,921.1 1240.3,920.1 1242.5,920.6 1244.7,918.2 1246.9,918.9 1249.1,917.4 1251.3,915.4 1253.5,915.2 1255.7,915.3 1257.9,912.7 1260.1,910.6 1262.3,911.1 1264.5,909.6 1266.7,910.3 1268.9,904.9 1271.1,900.9 1273.3,901.5 1275.5,899.3 1277.7,895.2 1279.9,892.7 1282.1,892.8 1284.3,889.2 1286.5,889.3 1288.7,885.3 1290.9,885.9 1293.1,882.1 1295.3,884.1 1297.5,886.6 1299.7,884.2 1301.9,884.5 1304.1,881.2 1306.3,879.1 1308.5,876.2 1310.7,877.4 1312.9,874.5 1315.1,875.5 1317.3,871.1 1319.5,871.3 1321.7,870.3 1323.9,870 1326.1,868.3 1328.3,863.5 1330.5,861.4 1332.7,859.3 1334.9,862.4 1337.1,860.2 1339.3,858.4 1341.5,857.3 1343.7,852.4 1345.9,851.8 1348.1,853.7 1350.3,852.2 1352.5,851.7 1354.7,849.4 1356.9,849.2 1359.1,848.1 1361.3,842.6 1363.5,843.3 1365.7,841.8 1367.9,841.3 1370.1,839 1372.3,837.3 1374.5,834.8 1376.7,834.2 1378.9,832.2 1381.1,831.5 1383.3,830.1 1385.5,829.1 1387.7,825.7 1389.9,824.7 1392.1,825.2 1394.3,822.7 1396.5,822.1 1398.7,822.7 1400.9,820.7 1403.1,818.7 1405.3,817.1 1407.5,813.9 1409.7,815.4 1411.9,815.8 1414.1,814.1 1416.3,811 1418.5,813 1420.7,810.8 1422.9,810.6 1425.1,810.4 1427.3,808.4 1429.5,810 1431.7,805.9 1433.9,805.1 1436.1,804 1438.3,804.1 1440.5,802.9 1442.7,798.5 1444.9,798.9 1447.1,795.2 1449.3,796.8 1451.5,797.5 1453.7,796.2 1455.9,794.5 1458.1,790.5 1460.3,789.6 1462.5,788 1464.7,788.8 1466.9,789.3 1469.1,787.1 1471.3,790.1 1473.5,786.1 1475.7,784 1477.9,784.1 1480.1,784 1482.3,783.3 1484.5,780.7 1486.7,781.9 1488.9,779.1 1491.1,780 1493.3,779.1 1495.5,775.4 1497.7,774.7 1499.9,772.8 1502.1,772.4 1504.3,771 1506.5,770.6 1508.7,768.4 1510.9,768.7 1513.1,768.3 1515.3,763.3 1517.5,763.8 1519.7,764.3 1521.9,763.5 1524.1,762.3 1526.3,763 1528.5,760.8 1530.7,759.4 1532.9,756.8 1535.1,759.4 1537.3,755.5 1539.5,752.9 1541.7,752.7 1543.9,752.6 1546.1,755.6 1548.3,751.9 1550.5,749.7 1552.7,745.4 1554.9,748.4 1557.1,746.1 1559.3,746.3 1561.5,749 1563.7,747.2 1565.9,749 1568.1,748.9 1570.3,744.6 1572.5,746.3 1574.7,744.5 1576.9,746 1579.1,745.5 1581.3,740 1583.5,741.8 1585.7,738.2 1587.9,736.2 1590.1,736.7 1592.3,737.7 1594.5,735.5 1596.7,737.1 1598.9,734.1 1601.1,736.5 1603.3,735.3 1605.5,734.4 1607.7,734.9 1609.9,730.1 1612.1,730 1614.3,732.4 1616.5,729.7 1618.7,730.6 1620.9,727.4 1623.1,725 1625.3,725.6 1627.5,726.6 1629.7,726 1631.9,724.5 1634.1,723.5 1636.3,722.1 1638.5,723.6 1640.7,723.1 1642.9,722.4 1645.1,718 1647.3,720 1649.5,718.1 1651.7,715.8 1653.9,717.1 1656.1,717.3 1658.3,716.4 1660.5,716.1 1662.7,715.5 1664.9,715.1 1667.1,713.9 1669.3,711.4 1671.5,713.2 1673.7,714.7 1675.9,713.9 1678.1,715.2 1680.3,714.2 1682.5,711.4 1684.7,712 1686.9,707.8 1689.1,710.1 1691.3,707.7 1693.5,706.5 1695.7,708.2 1697.9,706.9 1700.1,708.4 1702.3,705.2 1704.5,705.9 1706.7,704.5 1708.9,705.1 1711.1,704.6 1713.3,703.2 1715.5,704.4 1717.7,700.9 1719.9,700.4 1722.1,702.2 1724.3,702.2 1726.5,701.8 1728.7,701.5 1730.9,703.8 1733.1,699 1735.3,699.5 1737.5,699.2 1739.7,701.1 1741.9,699.6 1744.1,700.1 1746.3,699.4 1748.5,696.8 1750.7,694.7 1752.9,693.4 1755.1,697.2 1757.3,696 1759.5,695.5 1761.7,693.9 1763.9,693.3 1766.1,692.4 1768.3,691.5 1770.5,687.8 1772.7,690.2 1774.9,689.7 1777.1,690.3 1779.3,689.6 1781.5,690.2 1783.7,689.2 1785.9,690.1 1788.1,685.4 1790.3,686.3 1792.5,688.7 1794.7,683.5 1796.9,683.1 1799.1,683.3 1801.3,681.5 1803.5,684.9 1805.7,683.6 1807.9,683.1 1810.1,682.8 1812.3,681.1 1814.5,681.6 1816.7,679.5 1818.9,678.8 1821.1,676.5 1823.3,681.1 1825.5,678.3 1827.7,679 1829.9,679.9 1832.1,678.6 1834.3,676.8 1836.5,676 1838.7,675.1 1840.9,673 1843.1,672.2 1845.3,670.1 1847.5,670 1849.7,672.9 1851.9,669 1854.1,669.2 1856.3,669.4 1858.5,670.4 1860.7,666.6 1862.9,667 1865.1,666.1 1867.3,665.6 1869.5,662.7 1871.7,665.3 1873.9,661.4 1876.1,665.2 1878.3,665.2 1880.5,664.5 1882.7,661.4 1884.9,664.2 1887.1,662.6 1889.3,662.5 1891.5,662.1 1893.7,660.8 1895.9,660.9 1898.1,661.5 1900.3,658.2 1902.5,660.6 1904.7,662.6 1906.9,661.3 1909.1,661 1911.3,658.2 1913.5,662 1915.7,659.3 1917.9,660.9 1920.1,661.2 1922.3,660.8 1924.5,658.6 1926.7,659 1928.9,657.3 1931.1,657.4 1933.3,658.6 1935.5,655.9 1937.7,654.9 1939.9,653.2 1942.1,655.7 1944.3,657.6 1946.5,656.8 1948.7,656.9 1950.9,657.7 1953.1,654.3 1955.3,653.8 1957.5,653.6 1959.7,654.8 1961.9,655 1964.1,656.8 1966.3,654 1968.5,656.3 1970.7,652.2 1972.9,652.9 1975.1,655 1977.3,653.8 1979.5,652 1981.7,651.5 1983.9,651.2 1986.1,648.5 1986.5,651.1"/>
</g>
<g id="curve-f00">
<path class="crv" style="stroke-linejoin:round" stroke="#f00" stroke-width="8.6" d="M142.5,640.7 144.7,640.3 146.9,640.9 149.1,638.9 151.3,645.5 153.5,645.8 155.7,644.2 157.9,645.5 160.1,645.1 162.3,644.1 164.5,645 166.7,642.1 168.9,642.3 171.1,643.4 173.3,646.1 175.5,645.4 177.7,646.4 179.9,645.8 182.1,647.2 184.3,645.2 186.5,646.4 188.7,645.4 190.9,646.3 193.1,648.1 195.3,649.2 197.5,654.7 199.7,659.2 201.9,656.3 204.1,656.5 206.3,656.6 208.5,659.4 210.7,658.4 212.9,659.6 215.1,659.3 217.3,658.5 219.5,658.3 221.7,658.6 223.9,661.8 226.1,660.9 228.3,662.1 230.5,662.1 232.7,663.5 234.9,660.6 237.1,661.6 239.3,664.1 241.5,667.1 243.7,665.7 245.9,667.8 248.1,664.2 250.3,668.2 252.5,668 254.7,664.8 256.9,666.5 259.1,666.9 261.3,664.3 263.5,664.3 265.7,664.6 267.9,661 270.1,659.6 272.3,658.4 274.5,659.2 276.7,656.4 278.9,654.9 281.1,654 283.3,654.8 285.5,653 287.7,652.5 289.9,651.3 292.1,655.3 294.3,653 296.5,653.7 298.7,650.6 300.9,648.9 303.1,650.1 305.3,648.7 307.5,646.4 309.7,646.6 311.9,650.6 314.1,649.5 316.3,649.2 318.5,647.1 320.7,645 322.9,646.1 325.1,645.5 327.3,645.8 329.5,646.9 331.7,645.4 333.9,645.5 336.1,645.5 338.3,642 340.5,644 342.7,641.3 344.9,642.8 347.1,642.4 349.3,643.6 351.5,642.6 353.7,639.6 355.9,637 358.1,635 360.3,632.8 362.5,631.5 364.7,634.9 366.9,638 369.1,639.8 371.3,639.3 373.5,640.8 375.7,637.1 377.9,635.4 380.1,637.8 382.3,633.2 384.5,634.5 386.7,631.4 388.9,633 391.1,629.6 393.3,632 395.5,629.1 397.7,626.3 399.9,627.8 402.1,624.9 404.3,622.9 406.5,621.9 408.7,622.7 410.9,621.9 413.1,621.8 415.3,620.8 417.5,618.4 419.7,618 421.9,617.7 424.1,616.3 426.3,615.4 428.5,611.7 430.7,607.1 432.9,602.9 435.1,597.4 437.3,596.8 439.5,593.6 441.7,594.3 443.9,589.3 446.1,587.8 448.3,584.2 450.5,583.5 452.7,584.6 454.9,584 457.1,584.6 459.3,581.4 461.5,582.9 463.7,578.9 465.9,579 468.1,573.1 470.3,571.2 472.5,565.4 474.7,563.5 476.9,557.6 479.1,553.2 481.3,548.6 483.5,543 485.7,538.7 487.9,535.6 490.1,532.4 492.3,527.6 494.5,520.6 496.7,514.6 498.9,509.5 501.1,503.1 503.3,500.2 503.7,498.2 504.2,496.7 504.6,496.5 505.1,495.5 505.5,494.4 505.9,492.2 506.4,491.7 506.8,489.8 507.3,486.8 507.7,486.5 508.1,484.7 508.6,482.3 509,481.4 509.5,479 509.9,478.1 510.3,476.2 510.8,473.6 511.2,471.5 511.7,469.4 512.1,466.8 512.5,464.8 513,461.9 513.4,458.8 513.9,455.5 514.3,451.1 514.7,446.8 515.2,441.9 515.6,436.8 516.1,431.7 516.5,427 516.9,422.7 517.4,418.4 517.8,414.4 518.3,410.9 518.7,406.5 519.1,403.2 519.6,399.6 520,397 520.5,394.1 520.9,392.9 521.3,390.7 521.8,387.9 522.2,386.4 522.7,386.8 523.1,387.5 523.5,387.4 524,390.1 524.4,394.5 524.9,400.5 525.3,407.4 525.7,415.2 526.2,424 526.6,438.6 527.1,457.5 527.5,478 527.9,497.6 528.4,515.4 528.8,533.6 529.3,551.8 529.7,569.6 530.1,586.8 530.6,602.8 531,618.9 531.5,634.9 531.9,650.1 532.3,663.8 532.8,675.4 533.2,684.2 533.7,692 534.1,699.1 534.5,705.7 535,711.3 535.4,716.7 535.9,721.2 536.3,725.1 536.7,728.4 537.2,732 537.6,735.1 538.1,738 538.5,740.7 538.9,742.4 539.4,744.4 539.8,746.4 540.3,749.1 540.7,751.5 541.1,752.9 541.6,755.1 542,756.2 542.5,758.5 542.9,758.8 545.1,757.4 547.3,758.6 549.5,754.6 551.7,749.8 553.9,747.6 556.1,747.2 558.3,744 560.5,743.8 562.7,738.5 564.9,735.6 567.1,730.7 569.3,725.9 571.5,720.3 573.7,717.4 575.9,717.3 578.1,717 580.3,717.1 582.5,717 584.7,717 586.9,713.4 589.1,709.2 591.3,707 593.5,701.6 595.7,699 596.1,697.2 596.6,694.3 597,694.6 597.5,692.9 597.9,688.3 598.3,688 598.8,686.3 599.2,683.2 599.7,682.1 600.1,680.7 600.5,680.4 601,678.8 601.4,679.3 601.9,675.2 602.3,675.4 604.5,670.6 606.7,669.1 608.9,666.2 611.1,663.4 613.3,662.4 615.5,661.8 617.7,661.3 619.9,659.6 622.1,658.5 624.3,654.5 626.5,654.3 628.7,651.6 630.9,645.2 633.1,640.5 635.3,635.3 637.5,636.4 639.7,635.5 641.9,636.8 644.1,638.8 646.3,638.3 648.5,635.4 650.7,632.9 652.9,632.5 655.1,632.2 657.3,635.1 659.5,636.9 661.7,630.2 663.9,629.6 666.1,627.2 668.3,623.4 670.5,622.9 672.7,618.9 674.9,619.7 677.1,616.5 679.3,617.6 681.5,619 683.7,617.7 685.9,614.8 688.1,613.8 690.3,612.2 692.5,608.2 694.7,606.9 696.9,605.3 699.1,607.7 701.3,609 703.5,608.2 705.7,610.4 707.9,607.6 710.1,606.1 712.3,605 714.5,608.4 716.7,607.2 718.9,608.8 721.1,607.2 723.3,606.7 725.5,605.1 727.7,603.2 729.9,604 732.1,604.1 734.3,600.5 736.5,603.3 738.7,601.9 740.9,599.9 743.1,596.6 745.3,595.8 747.5,593.2 749.7,594.4 751.9,593.1 754.1,593 756.3,591.9 758.5,593 760.7,593.4 762.9,588.3 765.1,588.8 767.3,583.7 769.5,582.9 771.7,585.5 773.9,586 776.1,587 778.3,584.3 780.5,586.3 782.7,587.9 784.9,591.5 787.1,590.9 789.3,591.4 791.5,588.7 793.7,589 795.9,588 798.1,589.1 800.3,587.3 802.5,587.6 804.7,588.5 806.9,588.3 809.1,584.9 811.3,584 813.5,583.2 815.7,584.8 817.9,586.2 820.1,592.3 822.3,591.9 824.5,588.9 826.7,588.1 828.9,587 831.1,586 833.3,587.8 835.5,586.1 837.7,583.2 839.9,587.4 842.1,589.1 844.3,592.1 846.5,593.8 848.7,590.6 850.9,587.5 853.1,584.2 855.3,584.7 857.5,584.1 859.7,581.3 861.9,586.1 864.1,586.2 866.3,585.2 868.5,586.9 870.7,587.1 872.9,586 875.1,585.5 877.3,587 879.5,584.2 881.7,588.3 883.9,590 886.1,589.5 888.3,589.9 890.5,589.4 892.7,591.5 894.9,594 897.1,594.8 899.3,592.4 901.5,594.6 903.7,588.4 905.9,587.4 908.1,586.4 910.3,586.4 912.5,589 914.7,587.9 916.9,591.5 919.1,591.6 921.3,587.2 923.5,586.5 925.7,581.7 927.9,584.7 930.1,580.8 932.3,580.2 934.5,579 936.7,580.4 938.9,581.7 941.1,580.7 943.3,579 945.5,578.8 947.7,579.9 949.9,582.9 952.1,578.3 954.3,577.3 956.5,574.2 958.7,571.3 960.9,569.7 963.1,567.9 965.3,567.6 967.5,564.2 969.7,562.2 971.9,563.2 974.1,563.5 976.3,565.2 978.5,567.6 980.7,565.6 982.9,566.1 985.1,564.4 987.3,561.9 989.5,558.8 991.7,559.5 993.9,555.6 996.1,557.3 998.3,550.6 1000.5,549.5 1002.7,545.3 1004.9,543.3 1007.1,541.2 1009.3,536.4 1011.5,534.5 1013.7,532.1 1015.9,529.5 1018.1,527.7 1020.3,525.5 1022.5,521.7 1024.7,516.5 1026.9,510.7 1029.1,504.5 1031.3,499.7 1031.7,499.4 1032.2,500.2 1032.6,498.6 1033.1,496.3 1033.5,496 1033.9,492.9 1034.4,491.4 1034.8,490.8 1035.3,490.3 1035.7,486.7 1036.1,486.4 1036.6,486.1 1037,484 1037.5,481.9 1037.9,480.1 1038.3,479.8 1038.8,477.1 1039.2,478.1 1039.7,478.4 1040.1,476.7 1042.3,470.6 1042.7,467.3 1043.2,464.7 1043.6,462.7 1044.1,463.7 1044.5,461.7 1044.9,460.2 1045.4,458.1 1045.8,459.2 1046.3,456.9 1046.7,455 1047.1,453.4 1047.6,451.5 1048,451.7 1048.5,450.2 1048.9,447.3 1049.3,447.8 1049.8,445.6 1050.2,442.4 1050.7,441 1051.1,439.6 1053.3,435.7 1055.5,432.5 1055.9,431.4 1056.4,433.3 1056.8,432 1057.3,432.7 1057.7,434 1058.1,435.8 1058.6,438.8 1059,441.6 1059.5,444.8 1059.9,448.2 1060.3,451.8 1060.8,456 1061.2,460.4 1061.7,465.3 1062.1,470.3 1062.5,475.9 1063,481.5 1063.4,487.4 1063.9,493.5 1064.3,499.7 1064.7,506.3 1065.2,513.4 1065.6,521.2 1066.1,529.8 1066.5,538.9 1066.9,548.8 1067.4,559.6 1067.8,571.9 1068.3,585.8 1068.7,600.8 1069.1,616.6 1069.6,633.8 1070,652.9 1070.5,672.4 1070.9,691.9 1071.3,712.2 1071.8,731 1072.2,746.2 1072.7,759.6 1073.1,771.8 1073.5,782.9 1074,793.1 1074.4,802.5 1074.9,810.4 1075.3,817.5 1075.7,824.2 1076.2,831.6 1076.6,840.4 1077.1,851.9 1077.5,865.5 1077.9,879.7 1078.4,892.5 1078.8,902.4 1079.3,910.6 1079.7,918.1 1080.1,924.9 1080.6,931.5 1081,937.6 1081.5,943.3 1081.9,949.1 1082.3,954.7 1082.8,960.6 1083.2,966.9 1083.7,973.4 1084.1,979.7 1084.5,986.1 1085,992.3 1085.4,997.5 1085.9,1002.6 1086.3,1006.7 1086.7,1009.5 1087.2,1012 1087.6,1015.2 1088.1,1015.5 1088.5,1016.9 1090.7,1015.2 1092.9,1010.1 1095.1,1003.6 1097.3,1001.4 1099.5,996.3 1101.7,990.6 1103.9,987.5 1106.1,984.4 1108.3,979.9 1110.5,971.8 1112.7,965.5 1114.9,959 1117.1,955 1119.3,952.1 1121.5,946.1 1123.7,946.2 1125.9,940.8 1128.1,939.7 1130.3,938.3 1132.5,931.7 1134.7,926.5 1136.9,924.8 1139.1,919.7 1141.3,915.6 1143.5,911.4 1145.7,911.3 1147.9,905.5 1150.1,901.5 1152.3,900.3 1154.5,896.8 1156.7,894.6 1158.9,890.4 1161.1,887.5 1163.3,888.1 1165.5,885 1167.7,884.3 1169.9,882.4 1172.1,878.2 1174.3,875.9 1176.5,875 1178.7,874.1 1180.9,871.4 1183.1,869.8 1185.3,867.2 1187.5,864.3 1189.7,861.3 1191.9,857 1194.1,855.6 1196.3,854.9 1198.5,852.5 1200.7,852.3 1202.9,851.9 1205.1,850.8 1207.3,849.8 1209.5,849.3 1211.7,851.5 1213.9,848.8 1216.1,845 1218.3,844.4 1220.5,846.4 1222.7,844.4 1224.9,842.1 1227.1,843.8 1229.3,840.5 1231.5,841.3 1233.7,840.6 1235.9,835.5 1238.1,835.5 1240.3,836.8 1242.5,836.6 1244.7,833.5 1246.9,832.9 1249.1,832 1251.3,826.7 1253.5,823.7 1255.7,824.6 1257.9,823.9 1260.1,825.7 1262.3,823.9 1264.5,821.9 1266.7,824.5 1268.9,819.4 1271.1,819.1 1273.3,817.3 1275.5,815.1 1277.7,812.3 1279.9,811.7 1282.1,810.7 1284.3,808.8 1286.5,809.3 1288.7,807.6 1290.9,805.5 1293.1,804 1295.3,801.7 1297.5,803.5 1299.7,803.5 1301.9,798.8 1304.1,801.5 1306.3,799.7 1308.5,795.5 1310.7,797.5 1312.9,795.5 1315.1,796 1317.3,795.8 1319.5,797.5 1321.7,796.8 1323.9,794.6 1326.1,794.2 1328.3,792.5 1330.5,792.3 1332.7,791.1 1334.9,791.6 1337.1,789.6 1339.3,789.1 1341.5,786.9 1343.7,783.1 1345.9,782.5 1348.1,784.6 1350.3,779.1 1352.5,780.4 1354.7,777.9 1356.9,776.9 1359.1,775.3 1361.3,776.2 1363.5,775 1365.7,774.2 1367.9,774.7 1370.1,774.3 1372.3,771 1374.5,772.9 1376.7,769 1378.9,767.3 1381.1,768.8 1383.3,767.5 1385.5,764.6 1387.7,766.6 1389.9,761.5 1392.1,761.7 1394.3,761.3 1396.5,762.8 1398.7,763.2 1400.9,762.3 1403.1,760.6 1405.3,759.6 1407.5,760 1409.7,759.5 1411.9,757.2 1414.1,755.2 1416.3,756.4 1418.5,753.3 1420.7,751.8 1422.9,751 1425.1,751.1 1427.3,749.2 1429.5,748.5 1431.7,748.1 1433.9,747.5 1436.1,743.8 1438.3,743.6 1440.5,744.9 1442.7,744.4 1444.9,747.2 1447.1,743.9 1449.3,742.8 1451.5,743.7 1453.7,743.9 1455.9,742.4 1458.1,743.2 1460.3,740.8 1462.5,740.2 1464.7,741.4 1466.9,735.9 1469.1,736.6 1471.3,734.4 1473.5,734 1475.7,734.7 1477.9,734.9 1480.1,731.7 1482.3,732.2 1484.5,731.6 1486.7,732.7 1488.9,729.9 1491.1,730.1 1493.3,729.9 1495.5,731.6 1497.7,728.5 1499.9,729 1502.1,730.8 1504.3,725.4 1506.5,726.7 1508.7,724.6 1510.9,722.7 1513.1,724.2 1515.3,723.6 1517.5,724.9 1519.7,724.2 1521.9,724.4 1524.1,722 1526.3,722.2 1528.5,721.8 1530.7,722.4 1532.9,722.5 1535.1,717.3 1537.3,719.4 1539.5,717 1541.7,717 1543.9,716.9 1546.1,717.6 1548.3,716.1 1550.5,714 1552.7,713.9 1554.9,713 1557.1,712.3 1559.3,712.2 1561.5,712.5 1563.7,710.6 1565.9,709 1568.1,705.8 1570.3,706.6 1572.5,704.7 1574.7,708.3 1576.9,706.2 1579.1,708.3 1581.3,709.6 1583.5,704.9 1585.7,706.5 1587.9,704.7 1590.1,702.6 1592.3,701.6 1594.5,703.5 1596.7,704.8 1598.9,703.3 1601.1,700.2 1603.3,699.9 1605.5,700.3 1607.7,702.1 1609.9,701.1 1612.1,701 1614.3,700.9 1616.5,697.8 1618.7,697.5 1620.9,697.4 1623.1,694.8 1625.3,696.5 1627.5,695.6 1629.7,695.8 1631.9,692.7 1634.1,693.1 1636.3,695.8 1638.5,695.6 1640.7,696.9 1642.9,693.2 1645.1,693.8 1647.3,691.9 1649.5,692.3 1651.7,690.3 1653.9,690.7 1656.1,690.9 1658.3,690.3 1660.5,687.3 1662.7,690.4 1664.9,688.6 1667.1,685.6 1669.3,685.4 1671.5,686.6 1673.7,687 1675.9,684.7 1678.1,682.4 1680.3,684.5 1682.5,684.5 1684.7,687.3 1686.9,682.1 1689.1,686.3 1691.3,684.7 1693.5,682.3 1695.7,683.7 1697.9,681.4 1700.1,682.1 1702.3,679.7 1704.5,680.1 1706.7,677.9 1708.9,676.8 1711.1,679.1 1713.3,678.9 1715.5,679.7 1717.7,680.1 1719.9,678.6 1722.1,678.4 1724.3,676.7 1726.5,673 1728.7,676 1730.9,677.3 1733.1,678.1 1735.3,676.7 1737.5,675.2 1739.7,676.9 1741.9,677.2 1744.1,677.9 1746.3,677.2 1748.5,677.6 1750.7,676.2 1752.9,677 1755.1,674.9 1757.3,675.4 1759.5,675.2 1761.7,676.6 1763.9,672.6 1766.1,670.3 1768.3,674.1 1770.5,672.1 1772.7,672.6 1774.9,670.9 1777.1,669 1779.3,671.6 1781.5,670.8 1783.7,669 1785.9,669.6 1788.1,669.1 1790.3,670.5 1792.5,668.8 1794.7,667.4 1796.9,666.6 1799.1,666.6 1801.3,667.8 1803.5,666.4 1805.7,667 1807.9,667.7 1810.1,670.2 1812.3,667.8 1814.5,662 1816.7,664 1818.9,663.4 1821.1,663.9 1823.3,665.9 1825.5,665.7 1827.7,661.7 1829.9,663.7 1832.1,662.4 1834.3,662.6 1836.5,664.1 1838.7,660.9 1840.9,662.8 1843.1,658.4 1845.3,659.7 1847.5,659.6 1849.7,661.5 1851.9,657.4 1854.1,655.9 1856.3,659 1858.5,658.2 1860.7,661.5 1862.9,658.1 1865.1,656.7 1867.3,658.1 1869.5,656.4 1871.7,658 1873.9,655.7 1876.1,660 1878.3,656.6 1880.5,657.6 1882.7,655 1884.9,654.2 1887.1,655.5 1889.3,655.7 1891.5,657.3 1893.7,655.6 1895.9,656.6 1898.1,657.6 1900.3,660.7 1902.5,656 1904.7,658 1906.9,655.8 1909.1,656 1911.3,654.9 1913.5,657.4 1915.7,655.1 1917.9,655.6 1920.1,657.3 1922.3,655.7 1924.5,657.1 1926.7,656.5 1928.9,654.3 1931.1,657.2 1933.3,656.2 1935.5,656.4 1937.7,655 1939.9,656.4 1942.1,654 1944.3,653.2 1946.5,653.3 1948.7,655.9 1950.9,651.8 1953.1,652.7 1955.3,653.2 1957.5,651.8 1959.7,655.6 1961.9,658.1 1964.1,656.5 1966.3,653.9 1968.5,655.2 1970.7,655 1972.9,657.4 1975.1,654.5 1977.3,655.3 1979.5,655.6 1981.7,654.9 1983.9,654.7 1986.1,654.1 1986.5,653.3"/>
<path class="crv" style="stroke-linecap:round" stroke="#f00" stroke-width="10.3" d="M142.5,640.7 144.7,640.3 146.9,640.9 149.1,638.9 151.3,645.5 153.5,645.8 155.7,644.2 157.9,645.5 160.1,645.1 162.3,644.1 164.5,645 166.7,642.1 168.9,642.3 171.1,643.4 173.3,646.1 175.5,645.4 177.7,646.4 179.9,645.8 182.1,647.2 184.3,645.2 186.5,646.4 188.7,645.4 190.9,646.3 193.1,648.1 195.3,649.2 197.5,654.7 199.7,659.2 201.9,656.3 204.1,656.5 206.3,656.6 208.5,659.4 210.7,658.4 212.9,659.6 215.1,659.3 217.3,658.5 219.5,658.3 221.7,658.6 223.9,661.8 226.1,660.9 228.3,662.1 230.5,662.1 232.7,663.5 234.9,660.6 237.1,661.6 239.3,664.1 241.5,667.1 243.7,665.7 245.9,667.8 248.1,664.2 250.3,668.2 252.5,668 254.7,664.8 256.9,666.5 259.1,666.9 261.3,664.3 263.5,664.3 265.7,664.6 267.9,661 270.1,659.6 272.3,658.4 274.5,659.2 276.7,656.4 278.9,654.9 281.1,654 283.3,654.8 285.5,653 287.7,652.5 289.9,651.3 292.1,655.3 294.3,653 296.5,653.7 298.7,650.6 300.9,648.9 303.1,650.1 305.3,648.7 307.5,646.4 309.7,646.6 311.9,650.6 314.1,649.5 316.3,649.2 318.5,647.1 320.7,645 322.9,646.1 325.1,645.5 327.3,645.8 329.5,646.9 331.7,645.4 333.9,645.5 336.1,645.5 338.3,642 340.5,644 342.7,641.3 344.9,642.8 347.1,642.4 349.3,643.6 351.5,642.6 353.7,639.6 355.9,637 358.1,635 360.3,632.8 362.5,631.5 364.7,634.9 366.9,638 369.1,639.8 371.3,639.3 373.5,640.8 375.7,637.1 377.9,635.4 380.1,637.8 382.3,633.2 384.5,634.5 386.7,631.4 388.9,633 391.1,629.6 393.3,632 395.5,629.1 397.7,626.3 399.9,627.8 402.1,624.9 404.3,622.9 406.5,621.9 408.7,622.7 410.9,621.9 413.1,621.8 415.3,620.8 417.5,618.4 419.7,618 421.9,617.7 424.1,616.3 426.3,615.4 428.5,611.7 430.7,607.1 432.9,602.9 435.1,597.4 437.3,596.8 439.5,593.6 441.7,594.3 443.9,589.3 446.1,587.8 448.3,584.2 450.5,583.5 452.7,584.6 454.9,584 457.1,584.6 459.3,581.4 461.5,582.9 463.7,578.9 465.9,579 468.1,573.1 470.3,571.2 472.5,565.4 474.7,563.5 476.9,557.6 479.1,553.2 481.3,548.6 483.5,543 485.7,538.7 487.9,535.6 490.1,532.4 492.3,527.6 494.5,520.6 496.7,514.6 498.9,509.5 501.1,503.1 503.3,500.2 503.7,498.2 504.2,496.7 504.6,496.5 505.1,495.5 505.5,494.4 505.9,492.2 506.4,491.7 506.8,489.8 507.3,486.8 507.7,486.5 508.1,484.7"/>
<path class="crv" style="stroke-linecap:round" stroke="#f00" stroke-width="10.3" d="M542.5,758.5 542.9,758.8 545.1,757.4 547.3,758.6 549.5,754.6 551.7,749.8 553.9,747.6 556.1,747.2 558.3,744 560.5,743.8 562.7,738.5 564.9,735.6 567.1,730.7 569.3,725.9 571.5,720.3 573.7,717.4 575.9,717.3 578.1,717 580.3,717.1 582.5,717 584.7,717 586.9,713.4 589.1,709.2 591.3,707 593.5,701.6 595.7,699 596.1,697.2 596.6,694.3 597,694.6 597.5,692.9 597.9,688.3 598.3,688 598.8,686.3 599.2,683.2 599.7,682.1 600.1,680.7 600.5,680.4 601,678.8 601.4,679.3 601.9,675.2 602.3,675.4 604.5,670.6 606.7,669.1 608.9,666.2 611.1,663.4 613.3,662.4 615.5,661.8 617.7,661.3 619.9,659.6 622.1,658.5 624.3,654.5 626.5,654.3 628.7,651.6 630.9,645.2 633.1,640.5 635.3,635.3 637.5,636.4 639.7,635.5 641.9,636.8 644.1,638.8 646.3,638.3 648.5,635.4 650.7,632.9 652.9,632.5 655.1,632.2 657.3,635.1 659.5,636.9 661.7,630.2 663.9,629.6 666.1,627.2 668.3,623.4 670.5,622.9 672.7,618.9 674.9,619.7 677.1,616.5 679.3,617.6 681.5,619 683.7,617.7 685.9,614.8 688.1,613.8 690.3,612.2 692.5,608.2 694.7,606.9 696.9,605.3 699.1,607.7 701.3,609 703.5,608.2 705.7,610.4 707.9,607.6 710.1,606.1 712.3,605 714.5,608.4 716.7,607.2 718.9,608.8 721.1,607.2 723.3,606.7 725.5,605.1 727.7,603.2 729.9,604 732.1,604.1 734.3,600.5 736.5,603.3 738.7,601.9 740.9,599.9 743.1,596.6 745.3,595.8 747.5,593.2 749.7,594.4 751.9,593.1 754.1,593 756.3,591.9 758.5,593 760.7,593.4 762.9,588.3 765.1,588.8 767.3,583.7 769.5,582.9 771.7,585.5 773.9,586 776.1,587 778.3,584.3 780.5,586.3 782.7,587.9 784.9,591.5 787.1,590.9 789.3,591.4 791.5,588.7 793.7,589 795.9,588 798.1,589.1 800.3,587.3 802.5,587.6 804.7,588.5 806.9,588.3 809.1,584.9 811.3,584 813.5,583.2 815.7,584.8 817.9,586.2 820.1,592.3 822.3,591.9 824.5,588.9 826.7,588.1 828.9,587 831.1,586 833.3,587.8 835.5,586.1 837.7,583.2 839.9,587.4 842.1,589.1 844.3,592.1 846.5,593.8 848.7,590.6 850.9,587.5 853.1,584.2 855.3,584.7 857.5,584.1 859.7,581.3 861.9,586.1 864.1,586.2 866.3,585.2 868.5,586.9 870.7,587.1 872.9,586 875.1,585.5 877.3,587 879.5,584.2 881.7,588.3 883.9,590 886.1,589.5 888.3,589.9 890.5,589.4 892.7,591.5 894.9,594 897.1,594.8 899.3,592.4 901.5,594.6 903.7,588.4 905.9,587.4 908.1,586.4 910.3,586.4 912.5,589 914.7,587.9 916.9,591.5 919.1,591.6 921.3,587.2 923.5,586.5 925.7,581.7 927.9,584.7 930.1,580.8 932.3,580.2 934.5,579 936.7,580.4 938.9,581.7 941.1,580.7 943.3,579 945.5,578.8 947.7,579.9 949.9,582.9 952.1,578.3 954.3,577.3 956.5,574.2 958.7,571.3 960.9,569.7 963.1,567.9 965.3,567.6 967.5,564.2 969.7,562.2 971.9,563.2 974.1,563.5 976.3,565.2 978.5,567.6 980.7,565.6 982.9,566.1 985.1,564.4 987.3,561.9 989.5,558.8 991.7,559.5 993.9,555.6 996.1,557.3 998.3,550.6 1000.5,549.5 1002.7,545.3 1004.9,543.3 1007.1,541.2 1009.3,536.4 1011.5,534.5 1013.7,532.1 1015.9,529.5 1018.1,527.7 1020.3,525.5 1022.5,521.7 1024.7,516.5 1026.9,510.7 1029.1,504.5 1031.3,499.7 1031.7,499.4 1032.2,500.2 1032.6,498.6 1033.1,496.3 1033.5,496 1033.9,492.9 1034.4,491.4 1034.8,490.8 1035.3,490.3 1035.7,486.7 1036.1,486.4 1036.6,486.1 1037,484 1037.5,481.9 1037.9,480.1 1038.3,479.8 1038.8,477.1 1039.2,478.1 1039.7,478.4 1040.1,476.7 1042.3,470.6 1042.7,467.3 1043.2,464.7 1043.6,462.7 1044.1,463.7 1044.5,461.7 1044.9,460.2 1045.4,458.1 1045.8,459.2 1046.3,456.9 1046.7,455 1047.1,453.4 1047.6,451.5 1048,451.7 1048.5,450.2 1048.9,447.3 1049.3,447.8 1049.8,445.6 1050.2,442.4 1050.7,441 1051.1,439.6 1053.3,435.7 1055.5,432.5"/>
<path class="crv" style="stroke-linecap:round" stroke="#f00" stroke-width="10.3" d="M1090.7,1015.2 1092.9,1010.1 1095.1,1003.6 1097.3,1001.4 1099.5,996.3 1101.7,990.6 1103.9,987.5 1106.1,984.4 1108.3,979.9 1110.5,971.8 1112.7,965.5 1114.9,959 1117.1,955 1119.3,952.1 1121.5,946.1 1123.7,946.2 1125.9,940.8 1128.1,939.7 1130.3,938.3 1132.5,931.7 1134.7,926.5 1136.9,924.8 1139.1,919.7 1141.3,915.6 1143.5,911.4 1145.7,911.3 1147.9,905.5 1150.1,901.5 1152.3,900.3 1154.5,896.8 1156.7,894.6 1158.9,890.4 1161.1,887.5 1163.3,888.1 1165.5,885 1167.7,884.3 1169.9,882.4 1172.1,878.2 1174.3,875.9 1176.5,875 1178.7,874.1 1180.9,871.4 1183.1,869.8 1185.3,867.2 1187.5,864.3 1189.7,861.3 1191.9,857 1194.1,855.6 1196.3,854.9 1198.5,852.5 1200.7,852.3 1202.9,851.9 1205.1,850.8 1207.3,849.8 1209.5,849.3 1211.7,851.5 1213.9,848.8 1216.1,845 1218.3,844.4 1220.5,846.4 1222.7,844.4 1224.9,842.1 1227.1,843.8 1229.3,840.5 1231.5,841.3 1233.7,840.6 1235.9,835.5 1238.1,835.5 1240.3,836.8 1242.5,836.6 1244.7,833.5 1246.9,832.9 1249.1,832 1251.3,826.7 1253.5,823.7 1255.7,824.6 1257.9,823.9 1260.1,825.7 1262.3,823.9 1264.5,821.9 1266.7,824.5 1268.9,819.4 1271.1,819.1 1273.3,817.3 1275.5,815.1 1277.7,812.3 1279.9,811.7 1282.1,810.7 1284.3,808.8 1286.5,809.3 1288.7,807.6 1290.9,805.5 1293.1,804 1295.3,801.7 1297.5,803.5 1299.7,803.5 1301.9,798.8 1304.1,801.5 1306.3,799.7 1308.5,795.5 1310.7,797.5 1312.9,795.5 1315.1,796 1317.3,795.8 1319.5,797.5 1321.7,796.8 1323.9,794.6 1326.1,794.2 1328.3,792.5 1330.5,792.3 1332.7,791.1 1334.9,791.6 1337.1,789.6 1339.3,789.1 1341.5,786.9 1343.7,783.1 1345.9,782.5 1348.1,784.6 1350.3,779.1 1352.5,780.4 1354.7,777.9 1356.9,776.9 1359.1,775.3 1361.3,776.2 1363.5,775 1365.7,774.2 1367.9,774.7 1370.1,774.3 1372.3,771 1374.5,772.9 1376.7,769 1378.9,767.3 1381.1,768.8 1383.3,767.5 1385.5,764.6 1387.7,766.6 1389.9,761.5 1392.1,761.7 1394.3,761.3 1396.5,762.8 1398.7,763.2 1400.9,762.3 1403.1,760.6 1405.3,759.6 1407.5,760 1409.7,759.5 1411.9,757.2 1414.1,755.2 1416.3,756.4 1418.5,753.3 1420.7,751.8 1422.9,751 1425.1,751.1 1427.3,749.2 1429.5,748.5 1431.7,748.1 1433.9,747.5 1436.1,743.8 1438.3,743.6 1440.5,744.9 1442.7,744.4 1444.9,747.2 1447.1,743.9 1449.3,742.8 1451.5,743.7 1453.7,743.9 1455.9,742.4 1458.1,743.2 1460.3,740.8 1462.5,740.2 1464.7,741.4 1466.9,735.9 1469.1,736.6 1471.3,734.4 1473.5,734 1475.7,734.7 1477.9,734.9 1480.1,731.7 1482.3,732.2 1484.5,731.6 1486.7,732.7 1488.9,729.9 1491.1,730.1 1493.3,729.9 1495.5,731.6 1497.7,728.5 1499.9,729 1502.1,730.8 1504.3,725.4 1506.5,726.7 1508.7,724.6 1510.9,722.7 1513.1,724.2 1515.3,723.6 1517.5,724.9 1519.7,724.2 1521.9,724.4 1524.1,722 1526.3,722.2 1528.5,721.8 1530.7,722.4 1532.9,722.5 1535.1,717.3 1537.3,719.4 1539.5,717 1541.7,717 1543.9,716.9 1546.1,717.6 1548.3,716.1 1550.5,714 1552.7,713.9 1554.9,713 1557.1,712.3 1559.3,712.2 1561.5,712.5 1563.7,710.6 1565.9,709 1568.1,705.8 1570.3,706.6 1572.5,704.7 1574.7,708.3 1576.9,706.2 1579.1,708.3 1581.3,709.6 1583.5,704.9 1585.7,706.5 1587.9,704.7 1590.1,702.6 1592.3,701.6 1594.5,703.5 1596.7,704.8 1598.9,703.3 1601.1,700.2 1603.3,699.9 1605.5,700.3 1607.7,702.1 1609.9,701.1 1612.1,701 1614.3,700.9 1616.5,697.8 1618.7,697.5 1620.9,697.4 1623.1,694.8 1625.3,696.5 1627.5,695.6 1629.7,695.8 1631.9,692.7 1634.1,693.1 1636.3,695.8 1638.5,695.6 1640.7,696.9 1642.9,693.2 1645.1,693.8 1647.3,691.9 1649.5,692.3 1651.7,690.3 1653.9,690.7 1656.1,690.9 1658.3,690.3 1660.5,687.3 1662.7,690.4 1664.9,688.6 1667.1,685.6 1669.3,685.4 1671.5,686.6 1673.7,687 1675.9,684.7 1678.1,682.4 1680.3,684.5 1682.5,684.5 1684.7,687.3 1686.9,682.1 1689.1,686.3 1691.3,684.7 1693.5,682.3 1695.7,683.7 1697.9,681.4 1700.1,682.1 1702.3,679.7 1704.5,680.1 1706.7,677.9 1708.9,676.8 1711.1,679.1 1713.3,678.9 1715.5,679.7 1717.7,680.1 1719.9,678.6 1722.1,678.4 1724.3,676.7 1726.5,673 1728.7,676 1730.9,677.3 1733.1,678.1 1735.3,676.7 1737.5,675.2 1739.7,676.9 1741.9,677.2 1744.1,677.9 1746.3,677.2 1748.5,677.6 1750.7,676.2 1752.9,677 1755.1,674.9 1757.3,675.4 1759.5,675.2 1761.7,676.6 1763.9,672.6 1766.1,670.3 1768.3,674.1 1770.5,672.1 1772.7,672.6 1774.9,670.9 1777.1,669 1779.3,671.6 1781.5,670.8 1783.7,669 1785.9,669.6 1788.1,669.1 1790.3,670.5 1792.5,668.8 1794.7,667.4 1796.9,666.6 1799.1,666.6 1801.3,667.8 1803.5,666.4 1805.7,667 1807.9,667.7 1810.1,670.2 1812.3,667.8 1814.5,662 1816.7,664 1818.9,663.4 1821.1,663.9 1823.3,665.9 1825.5,665.7 1827.7,661.7 1829.9,663.7 1832.1,662.4 1834.3,662.6 1836.5,664.1 1838.7,660.9 1840.9,662.8 1843.1,658.4 1845.3,659.7 1847.5,659.6 1849.7,661.5 1851.9,657.4 1854.1,655.9 1856.3,659 1858.5,658.2 1860.7,661.5 1862.9,658.1 1865.1,656.7 1867.3,658.1 1869.5,656.4 1871.7,658 1873.9,655.7 1876.1,660 1878.3,656.6 1880.5,657.6 1882.7,655 1884.9,654.2 1887.1,655.5 1889.3,655.7 1891.5,657.3 1893.7,655.6 1895.9,656.6 1898.1,657.6 1900.3,660.7 1902.5,656 1904.7,658 1906.9,655.8 1909.1,656 1911.3,654.9 1913.5,657.4 1915.7,655.1 1917.9,655.6 1920.1,657.3 1922.3,655.7 1924.5,657.1 1926.7,656.5 1928.9,654.3 1931.1,657.2 1933.3,656.2 1935.5,656.4 1937.7,655 1939.9,656.4 1942.1,654 1944.3,653.2 1946.5,653.3 1948.7,655.9 1950.9,651.8 1953.1,652.7 1955.3,653.2 1957.5,651.8 1959.7,655.6 1961.9,658.1 1964.1,656.5 1966.3,653.9 1968.5,655.2 1970.7,655 1972.9,657.4 1975.1,654.5 1977.3,655.3 1979.5,655.6 1981.7,654.9 1983.9,654.7 1986.1,654.1 1986.5,653.3"/>
<path class="crv" style="stroke-linecap:round" stroke="#f00" stroke-width="12.2" d="M142.5,640.7 144.7,640.3 146.9,640.9 149.1,638.9 151.3,645.5 153.5,645.8 155.7,644.2 157.9,645.5 160.1,645.1 162.3,644.1 164.5,645 166.7,642.1 168.9,642.3 171.1,643.4 173.3,646.1 175.5,645.4 177.7,646.4 179.9,645.8 182.1,647.2 184.3,645.2 186.5,646.4 188.7,645.4 190.9,646.3 193.1,648.1 195.3,649.2 197.5,654.7 199.7,659.2 201.9,656.3 204.1,656.5 206.3,656.6 208.5,659.4 210.7,658.4 212.9,659.6 215.1,659.3 217.3,658.5 219.5,658.3 221.7,658.6 223.9,661.8 226.1,660.9 228.3,662.1 230.5,662.1 232.7,663.5 234.9,660.6 237.1,661.6 239.3,664.1 241.5,667.1 243.7,665.7 245.9,667.8 248.1,664.2 250.3,668.2 252.5,668 254.7,664.8 256.9,666.5 259.1,666.9 261.3,664.3 263.5,664.3 265.7,664.6 267.9,661 270.1,659.6 272.3,658.4 274.5,659.2 276.7,656.4 278.9,654.9 281.1,654 283.3,654.8 285.5,653 287.7,652.5 289.9,651.3 292.1,655.3 294.3,653 296.5,653.7 298.7,650.6 300.9,648.9 303.1,650.1 305.3,648.7 307.5,646.4 309.7,646.6 311.9,650.6 314.1,649.5 316.3,649.2 318.5,647.1 320.7,645 322.9,646.1 325.1,645.5 327.3,645.8 329.5,646.9 331.7,645.4 333.9,645.5 336.1,645.5 338.3,642 340.5,644 342.7,641.3 344.9,642.8 347.1,642.4 349.3,643.6 351.5,642.6 353.7,639.6 355.9,637 358.1,635 360.3,632.8 362.5,631.5 364.7,634.9 366.9,638 369.1,639.8 371.3,639.3 373.5,640.8 375.7,637.1 377.9,635.4 380.1,637.8 382.3,633.2 384.5,634.5 386.7,631.4 388.9,633 391.1,629.6 393.3,632 395.5,629.1 397.7,626.3 399.9,627.8 402.1,624.9 404.3,622.9 406.5,621.9 408.7,622.7 410.9,621.9 413.1,621.8 415.3,620.8 417.5,618.4 419.7,618 421.9,617.7 424.1,616.3 426.3,615.4 428.5,611.7 430.7,607.1 432.9,602.9 435.1,597.4 437.3,596.8 439.5,593.6 441.7,594.3 443.9,589.3 446.1,587.8 448.3,584.2 450.5,583.5 452.7,584.6 454.9,584 457.1,584.6 459.3,581.4 461.5,582.9 463.7,578.9 465.9,579 468.1,573.1 470.3,571.2 472.5,565.4 474.7,563.5"/>
<path class="crv" style="stroke-linecap:round" stroke="#f00" stroke-width="12.2" d="M485.7,538.7 487.9,535.6 490.1,532.4"/>
<path class="crv" style="stroke-linecap:round" stroke="#f00" stroke-width="12.2" d="M545.1,757.4 547.3,758.6 549.5,754.6 551.7,749.8 553.9,747.6 556.1,747.2 558.3,744 560.5,743.8 562.7,738.5 564.9,735.6"/>
<path class="crv" style="stroke-linecap:round" stroke="#f00" stroke-width="12.2" d="M571.5,720.3 573.7,717.4 575.9,717.3 578.1,717 580.3,717.1 582.5,717 584.7,717 586.9,713.4 589.1,709.2 591.3,707"/>
<path class="crv" style="stroke-linecap:round" stroke="#f00" stroke-width="12.2" d="M604.5,670.6 606.7,669.1 608.9,666.2 611.1,663.4 613.3,662.4 615.5,661.8 617.7,661.3 619.9,659.6 622.1,658.5 624.3,654.5 626.5,654.3 628.7,651.6 630.9,645.2 633.1,640.5 635.3,635.3 637.5,636.4 639.7,635.5 641.9,636.8 644.1,638.8 646.3,638.3 648.5,635.4 650.7,632.9 652.9,632.5 655.1,632.2 657.3,635.1 659.5,636.9 661.7,630.2 663.9,629.6 666.1,627.2 668.3,623.4 670.5,622.9 672.7,618.9 674.9,619.7 677.1,616.5 679.3,617.6 681.5,619 683.7,617.7 685.9,614.8 688.1,613.8 690.3,612.2 692.5,608.2 694.7,606.9 696.9,605.3 699.1,607.7 701.3,609 703.5,608.2 705.7,610.4 707.9,607.6 710.1,606.1 712.3,605 714.5,608.4 716.7,607.2 718.9,608.8 721.1,607.2 723.3,606.7 725.5,605.1 727.7,603.2 729.9,604 732.1,604.1 734.3,600.5 736.5,603.3 738.7,601.9 740.9,599.9 743.1,596.6 745.3,595.8 747.5,593.2 749.7,594.4 751.9,593.1 754.1,593 756.3,591.9 758.5,593 760.7,593.4 762.9,588.3 765.1,588.8 767.3,583.7 769.5,582.9 771.7,585.5 773.9,586 776.1,587 778.3,584.3 780.5,586.3 782.7,587.9 784.9,591.5 787.1,590.9 789.3,591.4 791.5,588.7 793.7,589 795.9,588 798.1,589.1 800.3,587.3 802.5,587.6 804.7,588.5 806.9,588.3 809.1,584.9 811.3,584 813.5,583.2 815.7,584.8 817.9,586.2 820.1,592.3 822.3,591.9 824.5,588.9 826.7,588.1 828.9,587 831.1,586 833.3,587.8 835.5,586.1 837.7,583.2 839.9,587.4 842.1,589.1 844.3,592.1 846.5,593.8 848.7,590.6 850.9,587.5 853.1,584.2 855.3,584.7 857.5,584.1 859.7,581.3 861.9,586.1 864.1,586.2 866.3,585.2 868.5,586.9 870.7,587.1 872.9,586 875.1,585.5 877.3,587 879.5,584.2 881.7,588.3 883.9,590 886.1,589.5 888.3,589.9 890.5,589.4 892.7,591.5 894.9,594 897.1,594.8 899.3,592.4 901.5,594.6 903.7,588.4 905.9,587.4 908.1,586.4 910.3,586.4 912.5,589 914.7,587.9 916.9,591.5 919.1,591.6 921.3,587.2 923.5,586.5 925.7,581.7 927.9,584.7 930.1,580.8 932.3,580.2 934.5,579 936.7,580.4 938.9,581.7 941.1,580.7 943.3,579 945.5,578.8 947.7,579.9 949.9,582.9 952.1,578.3 954.3,577.3 956.5,574.2 958.7,571.3 960.9,569.7 963.1,567.9 965.3,567.6 967.5,564.2 969.7,562.2 971.9,563.2 974.1,563.5 976.3,565.2 978.5,567.6 980.7,565.6 982.9,566.1 985.1,564.4 987.3,561.9 989.5,558.8 991.7,559.5 993.9,555.6 996.1,557.3 998.3,550.6 1000.5,549.5 1002.7,545.3 1004.9,543.3 1007.1,541.2 1009.3,536.4 1011.5,534.5 1013.7,532.1 1015.9,529.5 1018.1,527.7 1020.3,525.5 1022.5,521.7 1024.7,516.5"/>
<path class="crv" style="stroke-linecap:round" stroke="#f00" stroke-width="12.2" d="M1053.3,435.7 1055.5,432.5"/>
<path class="crv" style="stroke-linecap:round" stroke="#f00" stroke-width="12.2" d="M1117.1,955 1119.3,952.1 1121.5,946.1 1123.7,946.2 1125.9,940.8 1128.1,939.7 1130.3,938.3 1132.5,931.7 1134.7,926.5 1136.9,924.8 1139.1,919.7 1141.3,915.6 1143.5,911.4 1145.7,911.3 1147.9,905.5 1150.1,901.5 1152.3,900.3 1154.5,896.8 1156.7,894.6 1158.9,890.4 1161.1,887.5 1163.3,888.1 1165.5,885 1167.7,884.3 1169.9,882.4 1172.1,878.2 1174.3,875.9 1176.5,875 1178.7,874.1 1180.9,871.4 1183.1,869.8 1185.3,867.2 1187.5,864.3 1189.7,861.3 1191.9,857 1194.1,855.6 1196.3,854.9 1198.5,852.5 1200.7,852.3 1202.9,851.9 1205.1,850.8 1207.3,849.8 1209.5,849.3 1211.7,851.5 1213.9,848.8 1216.1,845 1218.3,844.4 1220.5,846.4 1222.7,844.4 1224.9,842.1 1227.1,843.8 1229.3,840.5 1231.5,841.3 1233.7,840.6 1235.9,835.5 1238.1,835.5 1240.3,836.8 1242.5,836.6 1244.7,833.5 1246.9,832.9 1249.1,832 1251.3,826.7 1253.5,823.7 1255.7,824.6 1257.9,823.9 1260.1,825.7 1262.3,823.9 1264.5,821.9 1266.7,824.5 1268.9,819.4 1271.1,819.1 1273.3,817.3 1275.5,815.1 1277.7,812.3 1279.9,811.7 1282.1,810.7 1284.3,808.8 1286.5,809.3 1288.7,807.6 1290.9,805.5 1293.1,804 1295.3,801.7 1297.5,803.5 1299.7,803.5 1301.9,798.8 1304.1,801.5 1306.3,799.7 1308.5,795.5 1310.7,797.5 1312.9,795.5 1315.1,796 1317.3,795.8 1319.5,797.5 1321.7,796.8 1323.9,794.6 1326.1,794.2 1328.3,792.5 1330.5,792.3 1332.7,791.1 1334.9,791.6 1337.1,789.6 1339.3,789.1 1341.5,786.9 1343.7,783.1 1345.9,782.5 1348.1,784.6 1350.3,779.1 1352.5,780.4 1354.7,777.9 1356.9,776.9 1359.1,775.3 1361.3,776.2 1363.5,775 1365.7,774.2 1367.9,774.7 1370.1,774.3 1372.3,771 1374.5,772.9 1376.7,769 1378.9,767.3 1381.1,768.8 1383.3,767.5 1385.5,764.6 1387.7,766.6 1389.9,761.5 1392.1,761.7 1394.3,761.3 1396.5,762.8 1398.7,763.2 1400.9,762.3 1403.1,760.6 1405.3,759.6 1407.5,760 1409.7,759.5 1411.9,757.2 1414.1,755.2 1416.3,756.4 1418.5,753.3 1420.7,751.8 1422.9,751 1425.1,751.1 1427.3,749.2 1429.5,748.5 1431.7,748.1 1433.9,747.5 1436.1,743.8 1438.3,743.6 1440.5,744.9 1442.7,744.4 1444.9,747.2 1447.1,743.9 1449.3,742.8 1451.5,743.7 1453.7,743.9 1455.9,742.4 1458.1,743.2 1460.3,740.8 1462.5,740.2 1464.7,741.4 1466.9,735.9 1469.1,736.6 1471.3,734.4 1473.5,734 1475.7,734.7 1477.9,734.9 1480.1,731.7 1482.3,732.2 1484.5,731.6 1486.7,732.7 1488.9,729.9 1491.1,730.1 1493.3,729.9 1495.5,731.6 1497.7,728.5 1499.9,729 1502.1,730.8 1504.3,725.4 1506.5,726.7 1508.7,724.6 1510.9,722.7 1513.1,724.2 1515.3,723.6 1517.5,724.9 1519.7,724.2 1521.9,724.4 1524.1,722 1526.3,722.2 1528.5,721.8 1530.7,722.4 1532.9,722.5 1535.1,717.3 1537.3,719.4 1539.5,717 1541.7,717 1543.9,716.9 1546.1,717.6 1548.3,716.1 1550.5,714 1552.7,713.9 1554.9,713 1557.1,712.3 1559.3,712.2 1561.5,712.5 1563.7,710.6 1565.9,709 1568.1,705.8 1570.3,706.6 1572.5,704.7 1574.7,708.3 1576.9,706.2 1579.1,708.3 1581.3,709.6 1583.5,704.9 1585.7,706.5 1587.9,704.7 1590.1,702.6 1592.3,701.6 1594.5,703.5 1596.7,704.8 1598.9,703.3 1601.1,700.2 1603.3,699.9 1605.5,700.3 1607.7,702.1 1609.9,701.1 1612.1,701 1614.3,700.9 1616.5,697.8 1618.7,697.5 1620.9,697.4 1623.1,694.8 1625.3,696.5 1627.5,695.6 1629.7,695.8 1631.9,692.7 1634.1,693.1 1636.3,695.8 1638.5,695.6 1640.7,696.9 1642.9,693.2 1645.1,693.8 1647.3,691.9 1649.5,692.3 1651.7,690.3 1653.9,690.7 1656.1,690.9 1658.3,690.3 1660.5,687.3 1662.7,690.4 1664.9,688.6 1667.1,685.6 1669.3,685.4 1671.5,686.6 1673.7,687 1675.9,684.7 1678.1,682.4 1680.3,684.5 1682.5,684.5 1684.7,687.3 1686.9,682.1 1689.1,686.3 1691.3,684.7 1693.5,682.3 1695.7,683.7 1697.9,681.4 1700.1,682.1 1702.3,679.7 1704.5,680.1 1706.7,677.9 1708.9,676.8 1711.1,679.1 1713.3,678.9 1715.5,679.7 1717.7,680.1 1719.9,678.6 1722.1,678.4 1724.3,676.7 1726.5,673 1728.7,676 1730.9,677.3 1733.1,678.1 1735.3,676.7 1737.5,675.2 1739.7,676.9 1741.9,677.2 1744.1,677.9 1746.3,677.2 1748.5,677.6 1750.7,676.2 1752.9,677 1755.1,674.9 1757.3,675.4 1759.5,675.2 1761.7,676.6 1763.9,672.6 1766.1,670.3 1768.3,674.1 1770.5,672.1 1772.7,672.6 1774.9,670.9 1777.1,669 1779.3,671.6 1781.5,670.8 1783.7,669 1785.9,669.6 1788.1,669.1 1790.3,670.5 1792.5,668.8 1794.7,667.4 1796.9,666.6 1799.1,666.6 1801.3,667.8 1803.5,666.4 1805.7,667 1807.9,667.7 1810.1,670.2 1812.3,667.8 1814.5,662 1816.7,664 1818.9,663.4 1821.1,663.9 1823.3,665.9 1825.5,665.7 1827.7,661.7 1829.9,663.7 1832.1,662.4 1834.3,662.6 1836.5,664.1 1838.7,660.9 1840.9,662.8 1843.1,658.4 1845.3,659.7 1847.5,659.6 1849.7,661.5 1851.9,657.4 1854.1,655.9 1856.3,659 1858.5,658.2 1860.7,661.5 1862.9,658.1 1865.1,656.7 1867.3,658.1 1869.5,656.4 1871.7,658 1873.9,655.7 1876.1,660 1878.3,656.6 1880.5,657.6 1882.7,655 1884.9,654.2 1887.1,655.5 1889.3,655.7 1891.5,657.3 1893.7,655.6 1895.9,656.6 1898.1,657.6 1900.3,660.7 1902.5,656 1904.7,658 1906.9,655.8 1909.1,656 1911.3,654.9 1913.5,657.4 1915.7,655.1 1917.9,655.6 1920.1,657.3 1922.3,655.7 1924.5,657.1 1926.7,656.5 1928.9,654.3 1931.1,657.2 1933.3,656.2 1935.5,656.4 1937.7,655 1939.9,656.4 1942.1,654 1944.3,653.2 1946.5,653.3 1948.7,655.9 1950.9,651.8 1953.1,652.7 1955.3,653.2 1957.5,651.8 1959.7,655.6 1961.9,658.1 1964.1,656.5 1966.3,653.9 1968.5,655.2 1970.7,655 1972.9,657.4 1975.1,654.5 1977.3,655.3 1979.5,655.6 1981.7,654.9 1983.9,654.7 1986.1,654.1 1986.5,653.3"/>
</g>
<g id="curve-00f">
<path class="crv" style="stroke-linejoin:round" stroke="#00f" stroke-width="8.6" d="M142.5,644.9 144.7,639.2 146.9,642.8 149.1,641.7 151.3,642.5 153.5,643.7 155.7,642.1 157.9,644.9 160.1,645 162.3,650.5 164.5,645.8 166.7,644.5 168.9,645.5 171.1,646.4 173.3,646.3 175.5,646.9 177.7,649 179.9,649.9 182.1,652.6 184.3,651.5 186.5,652 188.7,654.5 190.9,654.5 193.1,655.2 195.3,658.3 197.5,661.8 199.7,665.3 201.9,663.8 204.1,664.7 206.3,666.9 208.5,665 210.7,666.2 212.9,668.3 215.1,668.5 217.3,668 219.5,668.6 221.7,664.3 223.9,669.4 226.1,667.3 228.3,666.3 230.5,667.8 232.7,666.8 234.9,664 237.1,662.5 239.3,663.8 241.5,663.2 243.7,663.7 245.9,661.6 248.1,660.4 250.3,661.6 252.5,659.5 254.7,657.5 256.9,658.1 259.1,657.1 261.3,655.6 263.5,654.4 265.7,654.8 267.9,649.8 270.1,651.4 272.3,648.4 274.5,644 276.7,645.7 278.9,644.7 281.1,646.3 283.3,641.3 285.5,642.2 287.7,644.5 289.9,645.4 292.1,641.2 294.3,643.5 296.5,645.1 298.7,643.9 300.9,645.5 303.1,639.6 305.3,638.3 307.5,633.8 309.7,635.8 311.9,634 314.1,633.2 316.3,630.8 318.5,635 320.7,635 322.9,636.3 325.1,636.9 327.3,634.4 329.5,631.4 331.7,630.4 333.9,630.2 336.1,632.6 338.3,628.9 340.5,630.2 342.7,630.9 344.9,631.7 347.1,632.3 349.3,630.1 351.5,627.1 353.7,625.3 355.9,624.2 358.1,623.4 360.3,623.4 362.5,624.3 364.7,626.4 366.9,626.5 369.1,627.7 371.3,625.3 373.5,626 375.7,625 377.9,624.7 380.1,622.8 382.3,624.2 384.5,621.5 386.7,619.5 388.9,613.3 391.1,615 393.3,614.8 395.5,615.4 397.7,610.3 399.9,613.7 402.1,613.6 404.3,610.6 406.5,610 408.7,607.9 410.9,605.6 413.1,603 415.3,601.8 417.5,596.7 419.7,595.4 421.9,592.4 424.1,592 426.3,587.6 428.5,584 430.7,576.5 432.9,573.1 435.1,568.9 437.3,568.6 439.5,564.4 441.7,559.6 443.9,555.2 446.1,552.3 448.3,547.9 450.5,546.1 452.7,546.6 454.9,547 457.1,541.1 459.3,538.2 461.5,534.4 463.7,529 465.9,524.6 468.1,519.8 470.3,515.1 472.5,512 474.7,507.2 476.9,501.4 477.3,498.7 477.8,499.6 478.2,500.1 478.7,498.1 479.1,496.5 479.5,494.2 480,492.4 480.4,491.4 480.9,488.9 481.3,487.9 481.7,486.8 482.2,484.9 482.6,483.3 483.1,479.9 483.5,479.1 483.9,476.5 484.4,474.4 484.8,472.6 485.3,470.9 485.7,469.1 486.1,466.7 486.6,464.9 487,462 487.5,459.7 487.9,457.5 488.3,454.3 488.8,452.2 489.2,449.1 489.7,446.4 490.1,442.8 490.5,439.7 491,436.8 491.4,433.9 491.9,430.8 492.3,428.7 492.7,426.5 493.2,424.9 493.6,422 494.1,420.7 494.5,418.2 494.9,416.3 495.4,414.4 495.8,412.3 496.3,410.9 496.7,410.1 497.1,408.1 497.6,406.6 498,405.2 498.5,402.7 498.9,400.6 499.3,398.3 499.8,395.6 500.2,394.4 500.7,391.6 501.1,390.7 501.5,388.7 502,387.2 502.4,384.9 502.9,382.5 503.3,380.5 503.7,377.9 504.2,375.5 504.6,373 505.1,370.2 505.5,367.5 505.9,364.5 506.4,361.5 506.8,357.9 507.3,354.9 507.7,351.1 508.1,348 508.6,344.6 509,340.5 509.5,337.6 509.9,334.3 510.3,331.1 510.8,328.5 511.2,325.2 511.7,321.7 512.1,318.6 512.5,315.2 513,311.6 513.4,307.7 513.9,303.8 514.3,299.2 514.7,294.1 515.2,289.3 515.6,284.6 516.1,280.3 516.5,277 516.9,273.4 517.4,270 517.8,267.1 518.3,264.5 518.7,262.2 519.1,258.4 519.6,255 520,251.2 520.5,246.4 520.9,240.6 521.3,233.6 521.8,226.5 522.2,219.3 522.7,211.7 523.1,204 523.5,198.7 524,193.8 524.4,190.7 524.9,190.6 525.3,194.3 525.7,199.4 526.2,203.9 526.6,209.1 527.1,216.5 527.5,232.1 527.9,261.7 528.4,289.7 528.8,316.1 529.3,342.4 529.7,368.5 530.1,394.9 530.6,423.3 531,451 531.5,470.2 531.9,483.5 532.3,495.2 532.8,509.8 533.2,533.5 533.7,573.6 534.1,613.1 534.5,640.7 535,664.2 535.4,680.1 535.9,690.7 536.3,699.7 536.7,707.4 537.2,714 537.6,719.3 538.1,724.1 538.5,728.6 538.9,731.8 539.4,735.8 539.8,738.5 540.3,741.4 540.7,743.3 541.1,744.6 541.6,747.2 542,749.5 542.5,750.9 542.9,752.9 543.3,755.5 543.8,757 544.2,757.4 544.7,759.4 545.1,762.1 547.3,760.2 549.5,759.1 551.7,755.9 553.9,751.2 556.1,748.2 558.3,746.8 560.5,746.2 562.7,744.3 564.9,740.1 567.1,736.6 569.3,731 571.5,725.2 573.7,718.1 575.9,714.2 578.1,710.8 580.3,709 582.5,709.3 584.7,707.1 586.9,704.5 589.1,703 591.3,699.4 593.5,700.7 595.7,695.8 597.9,691.3 600.1,690.9 602.3,688.8 604.5,685.8 606.7,686.2 608.9,682.2 611.1,677.1 613.3,679.4 615.5,676.3 617.7,678.8 619.9,675.9 622.1,673.6 624.3,674.2 626.5,669 628.7,669.7 630.9,670.9 633.1,669.7 635.3,670.7 637.5,673 639.7,676 641.9,675.5 644.1,677.3 646.3,676.9 648.5,678.8 650.7,675.2 652.9,674.4 655.1,677.3 657.3,677.4 659.5,679.3 661.7,679.1 663.9,679.4 666.1,675.2 668.3,674 670.5,670.3 672.7,673.7 674.9,679.5 677.1,679.7 679.3,681.6 681.5,680.9 683.7,679.4 685.9,673.7 688.1,667.2 690.3,667.8 692.5,668.2 694.7,670.1 696.9,669.4 699.1,673.1 701.3,672.2 703.5,672.2 705.7,672.2 707.9,672.9 710.1,674.7 712.3,673.7 714.5,677.1 716.7,679.3 718.9,682 721.1,681 723.3,679 725.5,676.4 727.7,679.1 729.9,679.6 732.1,678.4 734.3,678.2 736.5,676.2 738.7,676 740.9,675.4 743.1,679 745.3,678.4 747.5,678.2 749.7,677.5 751.9,679.6 754.1,681.8 756.3,679.8 758.5,676.7 760.7,677.6 762.9,676 765.1,673.6 767.3,671.7 769.5,671.2 771.7,670.2 773.9,670.8 776.1,669.8 778.3,673.9 780.5,673.7 782.7,676.7 784.9,672.2 787.1,675.7 789.3,675.7 791.5,674 793.7,675.7 795.9,677.1 798.1,677.7 800.3,676.6 802.5,676.5 804.7,676.2 806.9,674.9 809.1,672.6 811.3,672.1 813.5,671.7 815.7,673.3 817.9,673.8 820.1,677.5 822.3,682.2 824.5,681 826.7,679.6 828.9,677.6 831.1,675.7 833.3,672.5 835.5,674.6 837.7,671.5 839.9,674.5 842.1,672.6 844.3,674.2 846.5,677.7 848.7,678 850.9,680.1 853.1,683.4 855.3,685.9 857.5,685.5 859.7,685.2 861.9,686.3 864.1,683.8 866.3,683.7 868.5,683.3 870.7,685.3 872.9,685.5 875.1,687.2 877.3,686.9 879.5,687.1 881.7,688.3 883.9,687.2 886.1,689.5 888.3,689.8 890.5,687.6 892.7,687.6 894.9,687.3 897.1,689.3 899.3,688.6 901.5,682.7 903.7,680.3 905.9,676.3 908.1,680 910.3,681.8 912.5,682.8 914.7,687 916.9,685.1 919.1,686.5 921.3,686 923.5,682.5 925.7,682.3 927.9,680 930.1,676.4 932.3,677 934.5,680.3 936.7,680.2 938.9,679.7 941.1,682.3 943.3,683.6 945.5,683.2 947.7,682.6 949.9,679.9 952.1,680.3 954.3,679.1 956.5,678 958.7,678.8 960.9,680.5 963.1,681 965.3,679.5 967.5,683 969.7,683.6 971.9,688.3 974.1,690.1 976.3,694.1 978.5,696.1 980.7,698.4 982.9,696.8 985.1,696.7 987.3,698.4 989.5,698.5 991.7,700.2 993.9,700.2 996.1,700.4 998.3,702.5 1000.5,699.7 1002.7,700 1004.9,699.5 1007.1,700 1009.3,696.2 1011.5,695.3 1013.7,695.9 1015.9,697.5 1018.1,697.2 1020.3,697.2 1022.5,698.3 1024.7,702.2 1026.9,705.7 1029.1,706.3 1031.3,707.1 1033.5,706.9 1035.7,703.7 1037.9,702.3 1040.1,700 1042.3,699.2 1044.5,698.4 1046.7,696.9 1048.9,699.5 1051.1,699.4 1053.3,696.4 1055.5,698.6 1057.7,700.9 1059.9,703.1 1062.1,699 1064.3,698.8 1064.7,696.3 1065.2,696.7 1065.6,695.3 1066.1,694.4 1066.5,693.8 1066.9,694 1067.4,695.9 1067.8,700.7 1068.3,706.4 1068.7,712.3 1069.1,718.1 1069.6,722.1 1070,724.2 1070.5,726.5 1070.9,727.4 1071.3,729.5 1071.8,732.1 1072.2,733.6 1072.7,733.4 1073.1,733.6 1075.3,739.9 1077.5,745.8 1077.9,744.9 1078.4,746.5 1078.8,749.1 1079.3,749.5 1079.7,751.7 1080.1,753.3 1080.6,754.1 1081,755.5 1081.5,756.5 1081.9,759.5 1084.1,764.3 1086.3,767.7 1088.5,769.1 1090.7,765.3 1092.9,764.3 1095.1,767.4 1097.3,768.5 1099.5,768.3 1101.7,766.8 1103.9,763.3 1106.1,762.7 1108.3,765.4 1110.5,763.5 1112.7,767.4 1114.9,766.2 1117.1,767.1 1119.3,766.6 1121.5,766.8 1123.7,767.3 1125.9,765.7 1128.1,768.6 1130.3,769.6 1132.5,771 1134.7,771.9 1136.9,769.1 1139.1,767.6 1141.3,766.9 1143.5,766.8 1145.7,767.5 1147.9,765.6 1150.1,769.2 1152.3,770.1 1154.5,771.3 1156.7,770.8 1158.9,772.6 1161.1,772.5 1163.3,769.5 1165.5,774.2 1167.7,775.1 1169.9,771.7 1172.1,769.1 1174.3,769.5 1176.5,767.5 1178.7,765.1 1180.9,766.9 1183.1,767.9 1185.3,768.9 1187.5,766.8 1189.7,771.3 1191.9,770.3 1194.1,771.9 1196.3,770.6 1198.5,769.9 1200.7,766.6 1202.9,764.5 1205.1,765 1207.3,765.4 1209.5,765.5 1211.7,772.2 1213.9,776.3 1216.1,778.9 1218.3,781.4 1220.5,776.8 1222.7,777 1224.9,773.4 1227.1,773.4 1229.3,770.4 1231.5,770.4 1233.7,772.9 1235.9,771.7 1238.1,770.8 1240.3,769.2 1242.5,769.5 1244.7,766.5 1246.9,766.1 1249.1,766.3 1251.3,764.5 1253.5,763.6 1255.7,763.8 1257.9,764.3 1260.1,765.5 1262.3,769.1 1264.5,768.7 1266.7,768.4 1268.9,766 1271.1,765.3 1273.3,764.8 1275.5,766.8 1277.7,764.6 1279.9,765.4 1282.1,765.1 1284.3,763.8 1286.5,761.7 1288.7,759.3 1290.9,761.4 1293.1,760.2 1295.3,762.6 1297.5,762.6 1299.7,765.6 1301.9,769.7 1304.1,768.5 1306.3,769.8 1308.5,765.9 1310.7,764.2 1312.9,765.5 1315.1,765.5 1317.3,762.2 1319.5,762.8 1321.7,760.9 1323.9,762 1326.1,763.3 1328.3,763.5 1330.5,764.7 1332.7,764.3 1334.9,765.6 1337.1,765 1339.3,764.3 1341.5,763.9 1343.7,762.1 1345.9,765.7 1348.1,763.7 1350.3,765.2 1352.5,769 1354.7,767.5 1356.9,770.1 1359.1,768.6 1361.3,767.8 1363.5,768 1365.7,766.9 1367.9,764.4 1370.1,766.3 1372.3,766.2 1374.5,765.7 1376.7,764.3 1378.9,764.6 1381.1,767.6 1383.3,766.4 1385.5,764 1387.7,760.2 1389.9,763.8 1392.1,757.5 1394.3,759.9 1396.5,762.1 1398.7,758.6 1400.9,758 1403.1,755.1 1405.3,757.4 1407.5,753.3 1409.7,754.7 1411.9,754.3 1414.1,752.6 1416.3,754.4 1418.5,750.7 1420.7,751.3 1422.9,752.1 1425.1,751.1 1427.3,751.2 1429.5,751.1 1431.7,749.2 1433.9,748.4 1436.1,748 1438.3,748.3 1440.5,749.8 1442.7,748.7 1444.9,750.3 1447.1,751.5 1449.3,752.4 1451.5,754.7 1453.7,750.8 1455.9,749.8 1458.1,749.7 1460.3,745.1 1462.5,745.7 1464.7,744.5 1466.9,746.5 1469.1,745.1 1471.3,746 1473.5,745.8 1475.7,746.7 1477.9,747.9 1480.1,745.4 1482.3,745.5 1484.5,744.4 1486.7,743.1 1488.9,740.7 1491.1,738.6 1493.3,740.8 1495.5,742.2 1497.7,739.9 1499.9,738.2 1502.1,741 1504.3,738 1506.5,736.9 1508.7,735.5 1510.9,735.6 1513.1,736.3 1515.3,738.4 1517.5,734.6 1519.7,733 1521.9,733.2 1524.1,732.9 1526.3,730 1528.5,731.7 1530.7,732.1 1532.9,731.6 1535.1,731.5 1537.3,728.1 1539.5,726.4 1541.7,729.4 1543.9,728.9 1546.1,725.4 1548.3,727.4 1550.5,727.4 1552.7,728.3 1554.9,727.8 1557.1,726.2 1559.3,725.8 1561.5,724.1 1563.7,722.5 1565.9,719.6 1568.1,717.6 1570.3,719.4 1572.5,718.4 1574.7,721.9 1576.9,723 1579.1,721.1 1581.3,718.6 1583.5,718.5 1585.7,719.6 1587.9,716.3 1590.1,716.8 1592.3,715.3 1594.5,714.6 1596.7,717.1 1598.9,715.3 1601.1,716.7 1603.3,712.5 1605.5,711.7 1607.7,711.5 1609.9,713.4 1612.1,711.1 1614.3,711.5 1616.5,709.2 1618.7,710.8 1620.9,710.2 1623.1,707 1625.3,708.6 1627.5,707.9 1629.7,710.5 1631.9,708.2 1634.1,706.1 1636.3,709.7 1638.5,708 1640.7,707.6 1642.9,708.1 1645.1,706.1 1647.3,707 1649.5,705.3 1651.7,707.7 1653.9,705.4 1656.1,700.9 1658.3,699.8 1660.5,700.6 1662.7,699 1664.9,700.8 1667.1,699.7 1669.3,697.9 1671.5,697.6 1673.7,698.3 1675.9,698.5 1678.1,697.7 1680.3,695.5 1682.5,697.2 1684.7,696.5 1686.9,698.6 1689.1,696.3 1691.3,697.4 1693.5,694.8 1695.7,695.6 1697.9,696.4 1700.1,695.5 1702.3,691.1 1704.5,691 1706.7,691.5 1708.9,691.8 1711.1,690.5 1713.3,691.1 1715.5,689.9 1717.7,691.6 1719.9,691 1722.1,689 1724.3,686.9 1726.5,688.4 1728.7,688.8 1730.9,687.5 1733.1,688.3 1735.3,686.1 1737.5,684.7 1739.7,686.9 1741.9,685.8 1744.1,686.8 1746.3,685.2 1748.5,687.3 1750.7,684.9 1752.9,684.7 1755.1,681.4 1757.3,680.6 1759.5,680.7 1761.7,683.7 1763.9,682.6 1766.1,680.9 1768.3,679.2 1770.5,678.2 1772.7,681.1 1774.9,676.8 1777.1,677.3 1779.3,678.2 1781.5,678 1783.7,675.7 1785.9,677.1 1788.1,678.2 1790.3,679.7 1792.5,680 1794.7,683.3 1796.9,681.7 1799.1,681.3 1801.3,674.8 1803.5,674.8 1805.7,671.4 1807.9,671.4 1810.1,674.1 1812.3,671.8 1814.5,672.6 1816.7,670.2 1818.9,673 1821.1,670.8 1823.3,669.3 1825.5,670.5 1827.7,670.8 1829.9,668.3 1832.1,669.7 1834.3,671.1 1836.5,668.9 1838.7,667.2 1840.9,666.1 1843.1,667.4 1845.3,665 1847.5,663 1849.7,664.7 1851.9,662.3 1854.1,664.7 1856.3,662 1858.5,659.8 1860.7,658.8 1862.9,660.8 1865.1,659.5 1867.3,660.1 1869.5,660.9 1871.7,660.9 1873.9,660.6 1876.1,660.4 1878.3,661.7 1880.5,661.9 1882.7,656.4 1884.9,660 1887.1,655.6 1889.3,656.5 1891.5,654.4 1893.7,656.4 1895.9,656.7 1898.1,656.1 1900.3,656 1902.5,655.1 1904.7,652.9 1906.9,653.8 1909.1,654.5 1911.3,654.3 1913.5,653.2 1915.7,653.4 1917.9,654.1 1920.1,653.3 1922.3,652.9 1924.5,655.9 1926.7,653.1 1928.9,654.2 1931.1,653.6 1933.3,655.9 1935.5,655.9 1937.7,652.8 1939.9,652.9 1942.1,650.3 1944.3,652.6 1946.5,650.9 1948.7,647.4 1950.9,648 1953.1,645.3 1955.3,645.5 1957.5,647.4 1959.7,648.3 1961.9,649.2 1964.1,650.6 1966.3,650.6 1968.5,650.6 1970.7,653.6 1972.9,649.1 1975.1,646.8 1977.3,646.2 1979.5,648.1 1981.7,648.7 1983.9,647.6 1986.1,648 1986.5,644.9"/>
<path class="crv" style="stroke-linecap:round" stroke="#00f" stroke-width="10.3" d="M142.5,644.9 144.7,639.2 146.9,642.8 149.1,641.7 151.3,642.5 153.5,643.7 155.7,642.1 157.9,644.9 160.1,645 162.3,650.5 164.5,645.8 166.7,644.5 168.9,645.5 171.1,646.4 173.3,646.3 175.5,646.9 177.7,649 179.9,649.9 182.1,652.6 184.3,651.5 186.5,652 188.7,654.5 190.9,654.5 193.1,655.2 195.3,658.3 197.5,661.8 199.7,665.3 201.9,663.8 204.1,664.7 206.3,666.9 208.5,665 210.7,666.2 212.9,668.3 215.1,668.5 217.3,668 219.5,668.6 221.7,664.3 223.9,669.4 226.1,667.3 228.3,666.3 230.5,667.8 232.7,666.8 234.9,664 237.1,662.5 239.3,663.8 241.5,663.2 243.7,663.7 245.9,661.6 248.1,660.4 250.3,661.6 252.5,659.5 254.7,657.5 256.9,658.1 259.1,657.1 261.3,655.6 263.5,654.4 265.7,654.8 267.9,649.8 270.1,651.4 272.3,648.4 274.5,644 276.7,645.7 278.9,644.7 281.1,646.3 283.3,641.3 285.5,642.2 287.7,644.5 289.9,645.4 292.1,641.2 294.3,643.5 296.5,645.1 298.7,643.9 300.9,645.5 303.1,639.6 305.3,638.3 307.5,633.8 309.7,635.8 311.9,634 314.1,633.2 316.3,630.8 318.5,635 320.7,635 322.9,636.3 325.1,636.9 327.3,634.4 329.5,631.4 331.7,630.4 333.9,630.2 336.1,632.6 338.3,628.9 340.5,630.2 342.7,630.9 344.9,631.7 347.1,632.3 349.3,630.1 351.5,627.1 353.7,625.3 355.9,624.2 358.1,623.4 360.3,623.4 362.5,624.3 364.7,626.4 366.9,626.5 369.1,627.7 371.3,625.3 373.5,626 375.7,625 377.9,624.7 380.1,622.8 382.3,624.2 384.5,621.5 386.7,619.5 388.9,613.3 391.1,615 393.3,614.8 395.5,615.4 397.7,610.3 399.9,613.7 402.1,613.6 404.3,610.6 406.5,610 408.7,607.9 410.9,605.6 413.1,603 415.3,601.8 417.5,596.7 419.7,595.4 421.9,592.4 424.1,592 426.3,587.6 428.5,584 430.7,576.5 432.9,573.1 435.1,568.9 437.3,568.6 439.5,564.4 441.7,559.6 443.9,555.2 446.1,552.3 448.3,547.9 450.5,546.1 452.7,546.6 454.9,547 457.1,541.1 459.3,538.2 461.5,534.4 463.7,529 465.9,524.6 468.1,519.8 470.3,515.1 472.5,512 474.7,507.2 476.9,501.4 477.3,498.7 477.8,499.6 478.2,500.1 478.7,498.1 479.1,496.5 479.5,494.2 480,492.4 480.4,491.4 480.9,488.9 481.3,487.9"/>
<path class="crv" style="stroke-linecap:round" stroke="#00f" stroke-width="10.3" d="M496.3,410.9 496.7,410.1"/>
<path class="crv" style="stroke-linecap:round" stroke="#00f" stroke-width="10.3" d="M544.2,757.4 544.7,759.4 545.1,762.1 547.3,760.2 549.5,759.1 551.7,755.9 553.9,751.2 556.1,748.2 558.3,746.8 560.5,746.2 562.7,744.3 564.9,740.1 567.1,736.6 569.3,731 571.5,725.2 573.7,718.1 575.9,714.2 578.1,710.8 580.3,709 582.5,709.3 584.7,707.1 586.9,704.5 589.1,703 591.3,699.4 593.5,700.7 595.7,695.8 597.9,691.3 600.1,690.9 602.3,688.8 604.5,685.8 606.7,686.2 608.9,682.2 611.1,677.1 613.3,679.4 615.5,676.3 617.7,678.8 619.9,675.9 622.1,673.6 624.3,674.2 626.5,669 628.7,669.7 630.9,670.9 633.1,669.7 635.3,670.7 637.5,673 639.7,676 641.9,675.5 644.1,677.3 646.3,676.9 648.5,678.8 650.7,675.2 652.9,674.4 655.1,677.3 657.3,677.4 659.5,679.3 661.7,679.1 663.9,679.4 666.1,675.2 668.3,674 670.5,670.3 672.7,673.7 674.9,679.5 677.1,679.7 679.3,681.6 681.5,680.9 683.7,679.4 685.9,673.7 688.1,667.2 690.3,667.8 692.5,668.2 694.7,670.1 696.9,669.4 699.1,673.1 701.3,672.2 703.5,672.2 705.7,672.2 707.9,672.9 710.1,674.7 712.3,673.7 714.5,677.1 716.7,679.3 718.9,682 721.1,681 723.3,679 725.5,676.4 727.7,679.1 729.9,679.6 732.1,678.4 734.3,678.2 736.5,676.2 738.7,676 740.9,675.4 743.1,679 745.3,678.4 747.5,678.2 749.7,677.5 751.9,679.6 754.1,681.8 756.3,679.8 758.5,676.7 760.7,677.6 762.9,676 765.1,673.6 767.3,671.7 769.5,671.2 771.7,670.2 773.9,670.8 776.1,669.8 778.3,673.9 780.5,673.7 782.7,676.7 784.9,672.2 787.1,675.7 789.3,675.7 791.5,674 793.7,675.7 795.9,677.1 798.1,677.7 800.3,676.6 802.5,676.5 804.7,676.2 806.9,674.9 809.1,672.6 811.3,672.1 813.5,671.7 815.7,673.3 817.9,673.8 820.1,677.5 822.3,682.2 824.5,681 826.7,679.6 828.9,677.6 831.1,675.7 833.3,672.5 835.5,674.6 837.7,671.5 839.9,674.5 842.1,672.6 844.3,674.2 846.5,677.7 848.7,678 850.9,680.1 853.1,683.4 855.3,685.9 857.5,685.5 859.7,685.2 861.9,686.3 864.1,683.8 866.3,683.7 868.5,683.3 870.7,685.3 872.9,685.5 875.1,687.2 877.3,686.9 879.5,687.1 881.7,688.3 883.9,687.2 886.1,689.5 888.3,689.8 890.5,687.6 892.7,687.6 894.9,687.3 897.1,689.3 899.3,688.6 901.5,682.7 903.7,680.3 905.9,676.3 908.1,680 910.3,681.8 912.5,682.8 914.7,687 916.9,685.1 919.1,686.5 921.3,686 923.5,682.5 925.7,682.3 927.9,680 930.1,676.4 932.3,677 934.5,680.3 936.7,680.2 938.9,679.7 941.1,682.3 943.3,683.6 945.5,683.2 947.7,682.6 949.9,679.9 952.1,680.3 954.3,679.1 956.5,678 958.7,678.8 960.9,680.5 963.1,681 965.3,679.5 967.5,683 969.7,683.6 971.9,688.3 974.1,690.1 976.3,694.1 978.5,696.1 980.7,698.4 982.9,696.8 985.1,696.7 987.3,698.4 989.5,698.5 991.7,700.2 993.9,700.2 996.1,700.4 998.3,702.5 1000.5,699.7 1002.7,700 1004.9,699.5 1007.1,700 1009.3,696.2 1011.5,695.3 1013.7,695.9 1015.9,697.5 1018.1,697.2 1020.3,697.2 1022.5,698.3 1024.7,702.2 1026.9,705.7 1029.1,706.3 1031.3,707.1 1033.5,706.9 1035.7,703.7 1037.9,702.3 1040.1,700 1042.3,699.2 1044.5,698.4 1046.7,696.9 1048.9,699.5 1051.1,699.4 1053.3,696.4 1055.5,698.6 1057.7,700.9 1059.9,703.1 1062.1,699 1064.3,698.8 1064.7,696.3"/>
<path class="crv" style="stroke-linecap:round" stroke="#00f" stroke-width="10.3" d="M1072.7,733.4 1073.1,733.6 1075.3,739.9 1077.5,745.8 1077.9,744.9 1078.4,746.5 1078.8,749.1 1079.3,749.5 1079.7,751.7 1080.1,753.3 1080.6,754.1 1081,755.5 1081.5,756.5 1081.9,759.5 1084.1,764.3 1086.3,767.7 1088.5,769.1 1090.7,765.3 1092.9,764.3 1095.1,767.4 1097.3,768.5 1099.5,768.3 1101.7,766.8 1103.9,763.3 1106.1,762.7 1108.3,765.4 1110.5,763.5 1112.7,767.4 1114.9,766.2 1117.1,767.1 1119.3,766.6 1121.5,766.8 1123.7,767.3 1125.9,765.7 1128.1,768.6 1130.3,769.6 1132.5,771 1134.7,771.9 1136.9,769.1 1139.1,767.6 1141.3,766.9 1143.5,766.8 1145.7,767.5 1147.9,765.6 1150.1,769.2 1152.3,770.1 1154.5,771.3 1156.7,770.8 1158.9,772.6 1161.1,772.5 1163.3,769.5 1165.5,774.2 1167.7,775.1 1169.9,771.7 1172.1,769.1 1174.3,769.5 1176.5,767.5 1178.7,765.1 1180.9,766.9 1183.1,767.9 1185.3,768.9 1187.5,766.8 1189.7,771.3 1191.9,770.3 1194.1,771.9 1196.3,770.6 1198.5,769.9 1200.7,766.6 1202.9,764.5 1205.1,765 1207.3,765.4 1209.5,765.5 1211.7,772.2 1213.9,776.3 1216.1,778.9 1218.3,781.4 1220.5,776.8 1222.7,777 1224.9,773.4 1227.1,773.4 1229.3,770.4 1231.5,770.4 1233.7,772.9 1235.9,771.7 1238.1,770.8 1240.3,769.2 1242.5,769.5 1244.7,766.5 1246.9,766.1 1249.1,766.3 1251.3,764.5 1253.5,763.6 1255.7,763.8 1257.9,764.3 1260.1,765.5 1262.3,769.1 1264.5,768.7 1266.7,768.4 1268.9,766 1271.1,765.3 1273.3,764.8 1275.5,766.8 1277.7,764.6 1279.9,765.4 1282.1,765.1 1284.3,763.8 1286.5,761.7 1288.7,759.3 1290.9,761.4 1293.1,760.2 1295.3,762.6 1297.5,762.6 1299.7,765.6 1301.9,769.7 1304.1,768.5 1306.3,769.8 1308.5,765.9 1310.7,764.2 1312.9,765.5 1315.1,765.5 1317.3,762.2 1319.5,762.8 1321.7,760.9 1323.9,762 1326.1,763.3 1328.3,763.5 1330.5,764.7 1332.7,764.3 1334.9,765.6 1337.1,765 1339.3,764.3 1341.5,763.9 1343.7,762.1 1345.9,765.7 1348.1,763.7 1350.3,765.2 1352.5,769 1354.7,767.5 1356.9,770.1 1359.1,768.6 1361.3,767.8 1363.5,768 1365.7,766.9 1367.9,764.4 1370.1,766.3 1372.3,766.2 1374.5,765.7 1376.7,764.3 1378.9,764.6 1381.1,767.6 1383.3,766.4 1385.5,764 1387.7,760.2 1389.9,763.8 1392.1,757.5 1394.3,759.9 1396.5,762.1 1398.7,758.6 1400.9,758 1403.1,755.1 1405.3,757.4 1407.5,753.3 1409.7,754.7 1411.9,754.3 1414.1,752.6 1416.3,754.4 1418.5,750.7 1420.7,751.3 1422.9,752.1 1425.1,751.1 1427.3,751.2 1429.5,751.1 1431.7,749.2 1433.9,748.4 1436.1,748 1438.3,748.3 1440.5,749.8 1442.7,748.7 1444.9,750.3 1447.1,751.5 1449.3,752.4 1451.5,754.7 1453.7,750.8 1455.9,749.8 1458.1,749.7 1460.3,745.1 1462.5,745.7 1464.7,744.5 1466.9,746.5 1469.1,745.1 1471.3,746 1473.5,745.8 1475.7,746.7 1477.9,747.9 1480.1,745.4 1482.3,745.5 1484.5,744.4 1486.7,743.1 1488.9,740.7 1491.1,738.6 1493.3,740.8 1495.5,742.2 1497.7,739.9 1499.9,738.2 1502.1,741 1504.3,738 1506.5,736.9 1508.7,735.5 1510.9,735.6 1513.1,736.3 1515.3,738.4 1517.5,734.6 1519.7,733 1521.9,733.2 1524.1,732.9 1526.3,730 1528.5,731.7 1530.7,732.1 1532.9,731.6 1535.1,731.5 1537.3,728.1 1539.5,726.4 1541.7,729.4 1543.9,728.9 1546.1,725.4 1548.3,727.4 1550.5,727.4 1552.7,728.3 1554.9,727.8 1557.1,726.2 1559.3,725.8 1561.5,724.1 1563.7,722.5 1565.9,719.6 1568.1,717.6 1570.3,719.4 1572.5,718.4 1574.7,721.9 1576.9,723 1579.1,721.1 1581.3,718.6 1583.5,718.5 1585.7,719.6 1587.9,716.3 1590.1,716.8 1592.3,715.3 1594.5,714.6 1596.7,717.1 1598.9,715.3 1601.1,716.7 1603.3,712.5 1605.5,711.7 1607.7,711.5 1609.9,713.4 1612.1,711.1 1614.3,711.5 1616.5,709.2 1618.7,710.8 1620.9,710.2 1623.1,707 1625.3,708.6 1627.5,707.9 1629.7,710.5 1631.9,708.2 1634.1,706.1 1636.3,709.7 1638.5,708 1640.7,707.6 1642.9,708.1 1645.1,706.1 1647.3,707 1649.5,705.3 1651.7,707.7 1653.9,705.4 1656.1,700.9 1658.3,699.8 1660.5,700.6 1662.7,699 1664.9,700.8 1667.1,699.7 1669.3,697.9 1671.5,697.6 1673.7,698.3 1675.9,698.5 1678.1,697.7 1680.3,695.5 1682.5,697.2 1684.7,696.5 1686.9,698.6 1689.1,696.3 1691.3,697.4 1693.5,694.8 1695.7,695.6 1697.9,696.4 1700.1,695.5 1702.3,691.1 1704.5,691 1706.7,691.5 1708.9,691.8 1711.1,690.5 1713.3,691.1 1715.5,689.9 1717.7,691.6 1719.9,691 1722.1,689 1724.3,686.9 1726.5,688.4 1728.7,688.8 1730.9,687.5 1733.1,688.3 1735.3,686.1 1737.5,684.7 1739.7,686.9 1741.9,685.8 1744.1,686.8 1746.3,685.2 1748.5,687.3 1750.7,684.9 1752.9,684.7 1755.1,681.4 1757.3,680.6 1759.5,680.7 1761.7,683.7 1763.9,682.6 1766.1,680.9 1768.3,679.2 1770.5,678.2 1772.7,681.1 1774.9,676.8 1777.1,677.3 1779.3,678.2 1781.5,678 1783.7,675.7 1785.9,677.1 1788.1,678.2 1790.3,679.7 1792.5,680 1794.7,683.3 1796.9,681.7 1799.1,681.3 1801.3,674.8 1803.5,674.8 1805.7,671.4 1807.9,671.4 1810.1,674.1 1812.3,671.8 1814.5,672.6 1816.7,670.2 1818.9,673 1821.1,670.8 1823.3,669.3 1825.5,670.5 1827.7,670.8 1829.9,668.3 1832.1,669.7 1834.3,671.1 1836.5,668.9 1838.7,667.2 1840.9,666.1 1843.1,667.4 1845.3,665 1847.5,663 1849.7,664.7 1851.9,662.3 1854.1,664.7 1856.3,662 1858.5,659.8 1860.7,658.8 1862.9,660.8 1865.1,659.5 1867.3,660.1 1869.5,660.9 1871.7,660.9 1873.9,660.6 1876.1,660.4 1878.3,661.7 1880.5,661.9 1882.7,656.4 1884.9,660 1887.1,655.6 1889.3,656.5 1891.5,654.4 1893.7,656.4 1895.9,656.7 1898.1,656.1 1900.3,656 1902.5,655.1 1904.7,652.9 1906.9,653.8 1909.1,654.5 1911.3,654.3 1913.5,653.2 1915.7,653.4 1917.9,654.1 1920.1,653.3 1922.3,652.9 1924.5,655.9 1926.7,653.1 1928.9,654.2 1931.1,653.6 1933.3,655.9 1935.5,655.9 1937.7,652.8 1939.9,652.9 1942.1,650.3 1944.3,652.6 1946.5,650.9 1948.7,647.4 1950.9,648 1953.1,645.3 1955.3,645.5 1957.5,647.4 1959.7,648.3 1961.9,649.2 1964.1,650.6 1966.3,650.6 1968.5,650.6 1970.7,653.6 1972.9,649.1 1975.1,646.8 1977.3,646.2 1979.5,648.1 1981.7,648.7 1983.9,647.6 1986.1,648 1986.5,644.9"/>
<path class="crv" style="stroke-linecap:round" stroke="#00f" stroke-width="12.2" d="M142.5,644.9 144.7,639.2 146.9,642.8 149.1,641.7 151.3,642.5 153.5,643.7 155.7,642.1 157.9,644.9 160.1,645 162.3,650.5 164.5,645.8 166.7,644.5 168.9,645.5 171.1,646.4 173.3,646.3 175.5,646.9 177.7,649 179.9,649.9 182.1,652.6 184.3,651.5 186.5,652 188.7,654.5 190.9,654.5 193.1,655.2 195.3,658.3 197.5,661.8 199.7,665.3 201.9,663.8 204.1,664.7 206.3,666.9 208.5,665 210.7,666.2 212.9,668.3 215.1,668.5 217.3,668 219.5,668.6 221.7,664.3 223.9,669.4 226.1,667.3 228.3,666.3 230.5,667.8 232.7,666.8 234.9,664 237.1,662.5 239.3,663.8 241.5,663.2 243.7,663.7 245.9,661.6 248.1,660.4 250.3,661.6 252.5,659.5 254.7,657.5 256.9,658.1 259.1,657.1 261.3,655.6 263.5,654.4 265.7,654.8 267.9,649.8 270.1,651.4 272.3,648.4 274.5,644 276.7,645.7 278.9,644.7 281.1,646.3 283.3,641.3 285.5,642.2 287.7,644.5 289.9,645.4 292.1,641.2 294.3,643.5 296.5,645.1 298.7,643.9 300.9,645.5 303.1,639.6 305.3,638.3 307.5,633.8 309.7,635.8 311.9,634 314.1,633.2 316.3,630.8 318.5,635 320.7,635 322.9,636.3 325.1,636.9 327.3,634.4 329.5,631.4 331.7,630.4 333.9,630.2 336.1,632.6 338.3,628.9 340.5,630.2 342.7,630.9 344.9,631.7 347.1,632.3 349.3,630.1 351.5,627.1 353.7,625.3 355.9,624.2 358.1,623.4 360.3,623.4 362.5,624.3 364.7,626.4 366.9,626.5 369.1,627.7 371.3,625.3 373.5,626 375.7,625 377.9,624.7 380.1,622.8 382.3,624.2 384.5,621.5 386.7,619.5 388.9,613.3 391.1,615 393.3,614.8 395.5,615.4 397.7,610.3 399.9,613.7 402.1,613.6 404.3,610.6 406.5,610 408.7,607.9 410.9,605.6 413.1,603 415.3,601.8 417.5,596.7 419.7,595.4 421.9,592.4 424.1,592 426.3,587.6 428.5,584 430.7,576.5 432.9,573.1 435.1,568.9 437.3,568.6 439.5,564.4 441.7,559.6 443.9,555.2 446.1,552.3 448.3,547.9 450.5,546.1 452.7,546.6 454.9,547 457.1,541.1 459.3,538.2"/>
<path class="crv" style="stroke-linecap:round" stroke="#00f" stroke-width="12.2" d="M545.1,762.1 547.3,760.2 549.5,759.1 551.7,755.9 553.9,751.2 556.1,748.2 558.3,746.8 560.5,746.2 562.7,744.3 564.9,740.1 567.1,736.6"/>
<path class="crv" style="stroke-linecap:round" stroke="#00f" stroke-width="12.2" d="M575.9,714.2 578.1,710.8 580.3,709 582.5,709.3 584.7,707.1 586.9,704.5 589.1,703 591.3,699.4 593.5,700.7 595.7,695.8 597.9,691.3 600.1,690.9 602.3,688.8 604.5,685.8 606.7,686.2 608.9,682.2 611.1,677.1 613.3,679.4 615.5,676.3 617.7,678.8 619.9,675.9 622.1,673.6 624.3,674.2 626.5,669 628.7,669.7 630.9,670.9 633.1,669.7 635.3,670.7 637.5,673 639.7,676 641.9,675.5 644.1,677.3 646.3,676.9 648.5,678.8 650.7,675.2 652.9,674.4 655.1,677.3 657.3,677.4 659.5,679.3 661.7,679.1 663.9,679.4 666.1,675.2 668.3,674 670.5,670.3 672.7,673.7 674.9,679.5 677.1,679.7 679.3,681.6 681.5,680.9 683.7,679.4 685.9,673.7 688.1,667.2 690.3,667.8 692.5,668.2 694.7,670.1 696.9,669.4 699.1,673.1 701.3,672.2 703.5,672.2 705.7,672.2 707.9,672.9 710.1,674.7 712.3,673.7 714.5,677.1 716.7,679.3 718.9,682 721.1,681 723.3,679 725.5,676.4 727.7,679.1 729.9,679.6 732.1,678.4 734.3,678.2 736.5,676.2 738.7,676 740.9,675.4 743.1,679 745.3,678.4 747.5,678.2 749.7,677.5 751.9,679.6 754.1,681.8 756.3,679.8 758.5,676.7 760.7,677.6 762.9,676 765.1,673.6 767.3,671.7 769.5,671.2 771.7,670.2 773.9,670.8 776.1,669.8 778.3,673.9 780.5,673.7 782.7,676.7 784.9,672.2 787.1,675.7 789.3,675.7 791.5,674 793.7,675.7 795.9,677.1 798.1,677.7 800.3,676.6 802.5,676.5 804.7,676.2 806.9,674.9 809.1,672.6 811.3,672.1 813.5,671.7 815.7,673.3 817.9,673.8 820.1,677.5 822.3,682.2 824.5,681 826.7,679.6 828.9,677.6 831.1,675.7 833.3,672.5 835.5,674.6 837.7,671.5 839.9,674.5 842.1,672.6 844.3,674.2 846.5,677.7 848.7,678 850.9,680.1 853.1,683.4 855.3,685.9 857.5,685.5 859.7,685.2 861.9,686.3 864.1,683.8 866.3,683.7 868.5,683.3 870.7,685.3 872.9,685.5 875.1,687.2 877.3,686.9 879.5,687.1 881.7,688.3 883.9,687.2 886.1,689.5 888.3,689.8 890.5,687.6 892.7,687.6 894.9,687.3 897.1,689.3 899.3,688.6 901.5,682.7 903.7,680.3 905.9,676.3 908.1,680 910.3,681.8 912.5,682.8 914.7,687 916.9,685.1 919.1,686.5 921.3,686 923.5,682.5 925.7,682.3 927.9,680 930.1,676.4 932.3,677 934.5,680.3 936.7,680.2 938.9,679.7 941.1,682.3 943.3,683.6 945.5,683.2 947.7,682.6 949.9,679.9 952.1,680.3 954.3,679.1 956.5,678 958.7,678.8 960.9,680.5 963.1,681 965.3,679.5 967.5,683 969.7,683.6 971.9,688.3 974.1,690.1 976.3,694.1 978.5,696.1 980.7,698.4 982.9,696.8 985.1,696.7 987.3,698.4 989.5,698.5 991.7,700.2 993.9,700.2 996.1,700.4 998.3,702.5 1000.5,699.7 1002.7,700 1004.9,699.5 1007.1,700 1009.3,696.2 1011.5,695.3 1013.7,695.9 1015.9,697.5 1018.1,697.2 1020.3,697.2 1022.5,698.3 1024.7,702.2 1026.9,705.7 1029.1,706.3 1031.3,707.1 1033.5,706.9 1035.7,703.7 1037.9,702.3 1040.1,700 1042.3,699.2 1044.5,698.4 1046.7,696.9 1048.9,699.5 1051.1,699.4 1053.3,696.4 1055.5,698.6 1057.7,700.9 1059.9,703.1 1062.1,699 1064.3,698.8 1064.7,696.3"/>
<path class="crv" style="stroke-linecap:round" stroke="#00f" stroke-width="12.2" d="M1084.1,764.3 1086.3,767.7 1088.5,769.1 1090.7,765.3 1092.9,764.3 1095.1,767.4 1097.3,768.5 1099.5,768.3 1101.7,766.8 1103.9,763.3 1106.1,762.7 1108.3,765.4 1110.5,763.5 1112.7,767.4 1114.9,766.2 1117.1,767.1 1119.3,766.6 1121.5,766.8 1123.7,767.3 1125.9,765.7 1128.1,768.6 1130.3,769.6 1132.5,771 1134.7,771.9 1136.9,769.1 1139.1,767.6 1141.3,766.9 1143.5,766.8 1145.7,767.5 1147.9,765.6 1150.1,769.2 1152.3,770.1 1154.5,771.3 1156.7,770.8 1158.9,772.6 1161.1,772.5 1163.3,769.5 1165.5,774.2 1167.7,775.1 1169.9,771.7 1172.1,769.1 1174.3,769.5 1176.5,767.5 1178.7,765.1 1180.9,766.9 1183.1,767.9 1185.3,768.9 1187.5,766.8 1189.7,771.3 1191.9,770.3 1194.1,771.9 1196.3,770.6 1198.5,769.9 1200.7,766.6 1202.9,764.5 1205.1,765 1207.3,765.4 1209.5,765.5 1211.7,772.2 1213.9,776.3 1216.1,778.9 1218.3,781.4 1220.5,776.8 1222.7,777 1224.9,773.4 1227.1,773.4 1229.3,770.4 1231.5,770.4 1233.7,772.9 1235.9,771.7 1238.1,770.8 1240.3,769.2 1242.5,769.5 1244.7,766.5 1246.9,766.1 1249.1,766.3 1251.3,764.5 1253.5,763.6 1255.7,763.8 1257.9,764.3 1260.1,765.5 1262.3,769.1 1264.5,768.7 1266.7,768.4 1268.9,766 1271.1,765.3 1273.3,764.8 1275.5,766.8 1277.7,764.6 1279.9,765.4 1282.1,765.1 1284.3,763.8 1286.5,761.7 1288.7,759.3 1290.9,761.4 1293.1,760.2 1295.3,762.6 1297.5,762.6 1299.7,765.6 1301.9,769.7 1304.1,768.5 1306.3,769.8 1308.5,765.9 1310.7,764.2 1312.9,765.5 1315.1,765.5 1317.3,762.2 1319.5,762.8 1321.7,760.9 1323.9,762 1326.1,763.3 1328.3,763.5 1330.5,764.7 1332.7,764.3 1334.9,765.6 1337.1,765 1339.3,764.3 1341.5,763.9 1343.7,762.1 1345.9,765.7 1348.1,763.7 1350.3,765.2 1352.5,769 1354.7,767.5 1356.9,770.1 1359.1,768.6 1361.3,767.8 1363.5,768 1365.7,766.9 1367.9,764.4 1370.1,766.3 1372.3,766.2 1374.5,765.7 1376.7,764.3 1378.9,764.6 1381.1,767.6 1383.3,766.4 1385.5,764 1387.7,760.2 1389.9,763.8 1392.1,757.5 1394.3,759.9 1396.5,762.1 1398.7,758.6 1400.9,758 1403.1,755.1 1405.3,757.4 1407.5,753.3 1409.7,754.7 1411.9,754.3 1414.1,752.6 1416.3,754.4 1418.5,750.7 1420.7,751.3 1422.9,752.1 1425.1,751.1 1427.3,751.2 1429.5,751.1 1431.7,749.2 1433.9,748.4 1436.1,748 1438.3,748.3 1440.5,749.8 1442.7,748.7 1444.9,750.3 1447.1,751.5 1449.3,752.4 1451.5,754.7 1453.7,750.8 1455.9,749.8 1458.1,749.7 1460.3,745.1 1462.5,745.7 1464.7,744.5 1466.9,746.5 1469.1,745.1 1471.3,746 1473.5,745.8 1475.7,746.7 1477.9,747.9 1480.1,745.4 1482.3,745.5 1484.5,744.4 1486.7,743.1 1488.9,740.7 1491.1,738.6 1493.3,740.8 1495.5,742.2 1497.7,739.9 1499.9,738.2 1502.1,741 1504.3,738 1506.5,736.9 1508.7,735.5 1510.9,735.6 1513.1,736.3 1515.3,738.4 1517.5,734.6 1519.7,733 1521.9,733.2 1524.1,732.9 1526.3,730 1528.5,731.7 1530.7,732.1 1532.9,731.6 1535.1,731.5 1537.3,728.1 1539.5,726.4 1541.7,729.4 1543.9,728.9 1546.1,725.4 1548.3,727.4 1550.5,727.4 1552.7,728.3 1554.9,727.8 1557.1,726.2 1559.3,725.8 1561.5,724.1 1563.7,722.5 1565.9,719.6 1568.1,717.6 1570.3,719.4 1572.5,718.4 1574.7,721.9 1576.9,723 1579.1,721.1 1581.3,718.6 1583.5,718.5 1585.7,719.6 1587.9,716.3 1590.1,716.8 1592.3,715.3 1594.5,714.6 1596.7,717.1 1598.9,715.3 1601.1,716.7 1603.3,712.5 1605.5,711.7 1607.7,711.5 1609.9,713.4 1612.1,711.1 1614.3,711.5 1616.5,709.2 1618.7,710.8 1620.9,710.2 1623.1,707 1625.3,708.6 1627.5,707.9 1629.7,710.5 1631.9,708.2 1634.1,706.1 1636.3,709.7 1638.5,708 1640.7,707.6 1642.9,708.1 1645.1,706.1 1647.3,707 1649.5,705.3 1651.7,707.7 1653.9,705.4 1656.1,700.9 1658.3,699.8 1660.5,700.6 1662.7,699 1664.9,700.8 1667.1,699.7 1669.3,697.9 1671.5,697.6 1673.7,698.3 1675.9,698.5 1678.1,697.7 1680.3,695.5 1682.5,697.2 1684.7,696.5 1686.9,698.6 1689.1,696.3 1691.3,697.4 1693.5,694.8 1695.7,695.6 1697.9,696.4 1700.1,695.5 1702.3,691.1 1704.5,691 1706.7,691.5 1708.9,691.8 1711.1,690.5 1713.3,691.1 1715.5,689.9 1717.7,691.6 1719.9,691 1722.1,689 1724.3,686.9 1726.5,688.4 1728.7,688.8 1730.9,687.5 1733.1,688.3 1735.3,686.1 1737.5,684.7 1739.7,686.9 1741.9,685.8 1744.1,686.8 1746.3,685.2 1748.5,687.3 1750.7,684.9 1752.9,684.7 1755.1,681.4 1757.3,680.6 1759.5,680.7 1761.7,683.7 1763.9,682.6 1766.1,680.9 1768.3,679.2 1770.5,678.2 1772.7,681.1 1774.9,676.8 1777.1,677.3 1779.3,678.2 1781.5,678 1783.7,675.7 1785.9,677.1 1788.1,678.2 1790.3,679.7 1792.5,680 1794.7,683.3 1796.9,681.7 1799.1,681.3 1801.3,674.8 1803.5,674.8 1805.7,671.4 1807.9,671.4 1810.1,674.1 1812.3,671.8 1814.5,672.6 1816.7,670.2 1818.9,673 1821.1,670.8 1823.3,669.3 1825.5,670.5 1827.7,670.8 1829.9,668.3 1832.1,669.7 1834.3,671.1 1836.5,668.9 1838.7,667.2 1840.9,666.1 1843.1,667.4 1845.3,665 1847.5,663 1849.7,664.7 1851.9,662.3 1854.1,664.7 1856.3,662 1858.5,659.8 1860.7,658.8 1862.9,660.8 1865.1,659.5 1867.3,660.1 1869.5,660.9 1871.7,660.9 1873.9,660.6 1876.1,660.4 1878.3,661.7 1880.5,661.9 1882.7,656.4 1884.9,660 1887.1,655.6 1889.3,656.5 1891.5,654.4 1893.7,656.4 1895.9,656.7 1898.1,656.1 1900.3,656 1902.5,655.1 1904.7,652.9 1906.9,653.8 1909.1,654.5 1911.3,654.3 1913.5,653.2 1915.7,653.4 1917.9,654.1 1920.1,653.3 1922.3,652.9 1924.5,655.9 1926.7,653.1 1928.9,654.2 1931.1,653.6 1933.3,655.9 1935.5,655.9 1937.7,652.8 1939.9,652.9 1942.1,650.3 1944.3,652.6 1946.5,650.9 1948.7,647.4 1950.9,648 1953.1,645.3 1955.3,645.5 1957.5,647.4 1959.7,648.3 1961.9,649.2 1964.1,650.6 1966.3,650.6 1968.5,650.6 1970.7,653.6 1972.9,649.1 1975.1,646.8 1977.3,646.2 1979.5,648.1 1981.7,648.7 1983.9,647.6 1986.1,648 1986.5,644.9"/>
</g>
<g id="frame">
<rect x="132.97" y="171" width="1.93" height="1209" fill="#707070"/>
<rect x="134.9" y="171" width="2.1" height="1211" fill="#000"/>
<rect x="137" y="171" width="1.93" height="1209" fill="#3c3c3c"/>
<rect x="1987.04" y="171" width="1.9" height="1209" fill="#2a2a2a"/>
<rect x="1988.9" y="171" width="1.9" height="1209" fill="#000"/>
<rect x="1990.8" y="171" width="2.15" height="1208" fill="#808080"/>
<rect x="134.9" y="1376.15" width="1856" height="1.85" fill="#1c1c1c"/>
<rect x="133.5" y="1378" width="1858" height="1.97" fill="#000"/>
<rect x="133.5" y="1379.97" width="1858" height="1.95" fill="#949494"/>
<rect x="138.9" y="359.1" width="9.9" height="1.8" fill="#222"/>
<rect x="138.9" y="360.9" width="9.9" height="1.9" fill="#000"/>
<rect x="148.8" y="360.9" width="1.9" height="1.9" fill="#aaa"/>
<rect x="138.9" y="362.8" width="9.9" height="1.9" fill="#888"/>
<rect x="138.9" y="922.3" width="8" height="1.6" fill="#e4e4e4"/>
<rect x="138.9" y="923.9" width="10" height="4" fill="#000"/>
<rect x="148.9" y="923.9" width="1.7" height="4" fill="#b0b0b0"/>
<rect x="138.9" y="927.9" width="9" height="1.8" fill="#aaa"/>
<rect x="138.9" y="1205.9" width="20.1" height="5" fill="#000"/>
<rect x="159" y="1205.9" width="2" height="5" fill="#222"/>
<rect x="138.9" y="1210.9" width="20.5" height="1.8" fill="#c4c4c4"/>
<rect x="194.61" y="1366.80" width="5.9" height="10.20" fill="#383838"/>
<rect x="196.36" y="1366.00" width="2.4" height="11.00" fill="#000"/>
<rect x="349.10" y="1354.85" width="5.9" height="22.15" fill="#383838"/>
<rect x="350.85" y="1354.05" width="2.4" height="22.95" fill="#000"/>
<rect x="503.59" y="1366.80" width="5.9" height="10.20" fill="#383838"/>
<rect x="505.34" y="1366.00" width="2.4" height="11.00" fill="#000"/>
<rect x="658.08" y="1354.85" width="5.9" height="22.15" fill="#383838"/>
<rect x="659.83" y="1354.05" width="2.4" height="22.95" fill="#000"/>
<rect x="812.57" y="1366.80" width="5.9" height="10.20" fill="#383838"/>
<rect x="814.32" y="1366.00" width="2.4" height="11.00" fill="#000"/>
<rect x="967.06" y="1354.85" width="5.9" height="22.15" fill="#383838"/>
<rect x="968.81" y="1354.05" width="2.4" height="22.95" fill="#000"/>
<rect x="1121.55" y="1366.80" width="5.9" height="10.20" fill="#383838"/>
<rect x="1123.30" y="1366.00" width="2.4" height="11.00" fill="#000"/>
<rect x="1276.04" y="1354.85" width="5.9" height="22.15" fill="#383838"/>
<rect x="1277.79" y="1354.05" width="2.4" height="22.95" fill="#000"/>
<rect x="1430.53" y="1366.80" width="5.9" height="10.20" fill="#383838"/>
<rect x="1432.28" y="1366.00" width="2.4" height="11.00" fill="#000"/>
<rect x="1585.02" y="1354.85" width="5.9" height="22.15" fill="#383838"/>
<rect x="1586.77" y="1354.05" width="2.4" height="22.95" fill="#000"/>
<rect x="1739.51" y="1366.80" width="5.9" height="10.20" fill="#383838"/>
<rect x="1741.26" y="1366.00" width="2.4" height="11.00" fill="#000"/>
<rect x="1894.00" y="1354.85" width="5.9" height="22.15" fill="#383838"/>
<rect x="1895.75" y="1354.05" width="2.4" height="22.95" fill="#000"/>
</g>
<g id="xticklabels">
<text class="tick" transform="translate(351.6,1455.8) scale(1,1.025)">1000</text>
<text class="tick" transform="translate(661.0,1455.8) scale(1,1.025)">2000</text>
<text class="tick" transform="translate(969.3,1455.8) scale(1,1.025)">3000</text>
<text class="tick" transform="translate(1278.5,1455.8) scale(1,1.025)">4000</text>
<text class="tick" transform="translate(1587.3,1455.8) scale(1,1.025)">5000</text>
<text class="tick" transform="translate(1896.6,1455.8) scale(1,1.025)">6000</text>
</g>
<text class="ttl" transform="translate(1061,1559.4) scale(1.0156,1.05)">Field, G</text>
<text class="ttl" transform="translate(85.6,725.5) rotate(-90) scale(1,1.03)">Intensity, a.u.</text>
</g>
</g>
<g id="crisp">
<path class="crv" style="stroke-linejoin:round" stroke="#000" stroke-width="8.6" clip-path="url(#upper)" d="M1051.1,198.5 1051.5,194.7 1052,191.1 1052.4,187.6 1052.9,183.8 1053.3,180.5 1053.7,177.1 1054.2,174.8 1054.6,172 1055.1,168.7 1055.5,166.7 1055.9,164.4 1056.4,161.3 1056.8,159.5 1057.3,158.1 1057.7,155.3 1058.1,154 1058.6,154.1 1059,155.3 1059.5,156.8 1059.9,159.2 1060.3,161.2 1060.8,162.6 1061.2,165.1 1061.7,167.4 1062.1,169.7 1062.5,172.7 1063,176.7 1063.4,184.5 1063.9,196"/>
<g fill="#000" shape-rendering="crispEdges">
<rect x="351" y="29" width="1" height="7"/>
<rect x="351" y="43" width="1" height="7"/>
<rect x="351" y="57" width="1" height="7"/>
<rect x="351" y="71" width="1" height="7"/>
<rect x="351" y="86" width="1" height="7"/>
<rect x="351" y="100" width="1" height="7"/>
<rect x="351" y="114" width="1" height="7"/>
<rect x="351" y="128" width="1" height="7"/>
<rect x="351" y="143" width="1" height="7"/>
<rect x="351" y="157" width="1" height="7"/>
<rect x="660" y="29" width="1" height="7"/>
<rect x="660" y="43" width="1" height="7"/>
<rect x="660" y="57" width="1" height="7"/>
<rect x="660" y="71" width="1" height="7"/>
<rect x="660" y="86" width="1" height="7"/>
<rect x="660" y="100" width="1" height="7"/>
<rect x="660" y="114" width="1" height="7"/>
<rect x="660" y="128" width="1" height="7"/>
<rect x="660" y="143" width="1" height="7"/>
<rect x="660" y="157" width="1" height="7"/>
<rect x="968" y="29" width="1" height="7"/>
<rect x="968" y="43" width="1" height="7"/>
<rect x="968" y="57" width="1" height="7"/>
<rect x="968" y="71" width="1" height="7"/>
<rect x="968" y="86" width="1" height="7"/>
<rect x="968" y="100" width="1" height="7"/>
<rect x="968" y="114" width="1" height="7"/>
<rect x="968" y="128" width="1" height="7"/>
<rect x="968" y="143" width="1" height="7"/>
<rect x="968" y="157" width="1" height="7"/>
<rect x="1277" y="29" width="1" height="7"/>
<rect x="1277" y="43" width="1" height="7"/>
<rect x="1277" y="57" width="1" height="7"/>
<rect x="1277" y="71" width="1" height="7"/>
<rect x="1277" y="86" width="1" height="7"/>
<rect x="1277" y="100" width="1" height="7"/>
<rect x="1277" y="114" width="1" height="7"/>
<rect x="1277" y="128" width="1" height="7"/>
<rect x="1277" y="143" width="1" height="7"/>
<rect x="1277" y="157" width="1" height="7"/>
<rect x="1586" y="29" width="1" height="7"/>
<rect x="1586" y="43" width="1" height="7"/>
<rect x="1586" y="57" width="1" height="7"/>
<rect x="1586" y="71" width="1" height="7"/>
<rect x="1586" y="86" width="1" height="7"/>
<rect x="1586" y="100" width="1" height="7"/>
<rect x="1586" y="114" width="1" height="7"/>
<rect x="1586" y="128" width="1" height="7"/>
<rect x="1586" y="143" width="1" height="7"/>
<rect x="1586" y="157" width="1" height="7"/>
<rect x="1895" y="29" width="1" height="7"/>
<rect x="1895" y="43" width="1" height="7"/>
<rect x="1895" y="57" width="1" height="7"/>
<rect x="1895" y="71" width="1" height="7"/>
<rect x="1895" y="86" width="1" height="7"/>
<rect x="1895" y="100" width="1" height="7"/>
<rect x="1895" y="114" width="1" height="7"/>
<rect x="1895" y="128" width="1" height="7"/>
<rect x="1895" y="143" width="1" height="7"/>
<rect x="1895" y="157" width="1" height="7"/>
</g>
<path d="M133.93,171 V21.3 L136.3,18.94 H1988.6 L1990.94,21.3 V171 H1986.03 V23.9 H138.9 V171 Z" fill="#000"/>
<rect x="138.5" y="76.1" width="22.4" height="3.72" fill="#000"/>
</g>
</svg>
</body>
</html>
